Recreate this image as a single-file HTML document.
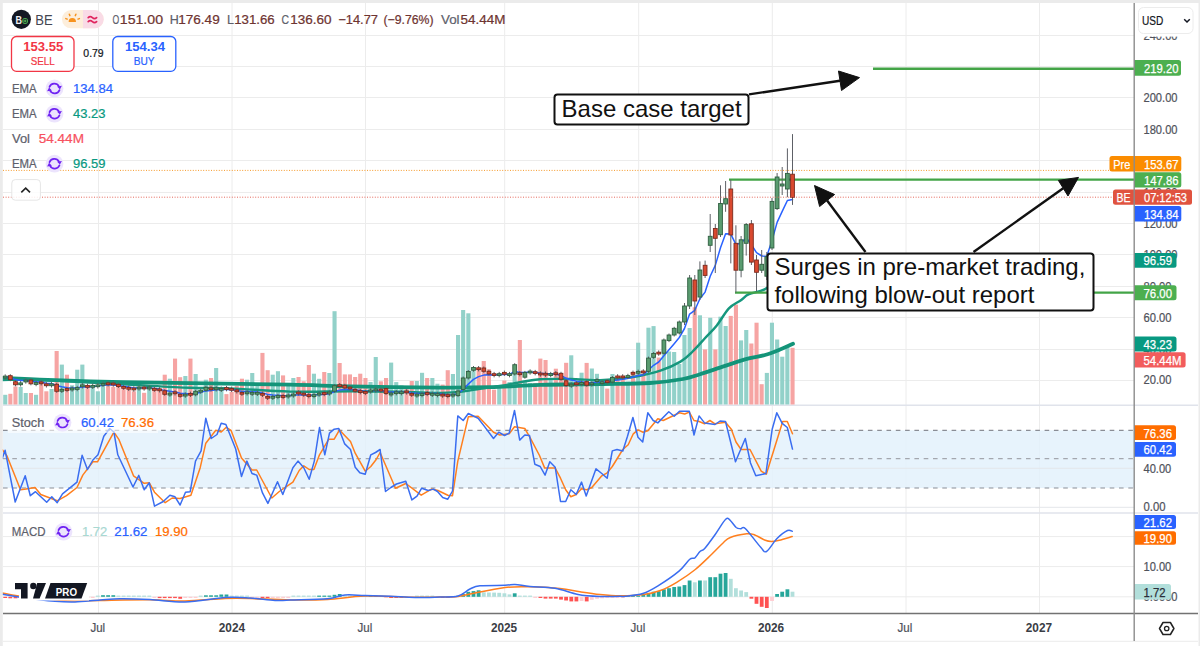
<!DOCTYPE html><html><head><meta charset="utf-8"><style>html,body{margin:0;padding:0;background:#fff;width:1200px;height:646px;overflow:hidden}svg{display:block}text{font-family:"Liberation Sans",sans-serif}</style></head><body>
<svg width="1200" height="646" viewBox="0 0 1200 646">
<rect x="0" y="0" width="1200" height="646" fill="#ffffff"/>
<line x1="3" y1="35.5" x2="1134" y2="35.5" stroke="#ececec" stroke-width="1"/>
<line x1="3" y1="66.5" x2="1134" y2="66.5" stroke="#ececec" stroke-width="1"/>
<line x1="3" y1="97.5" x2="1134" y2="97.5" stroke="#ececec" stroke-width="1"/>
<line x1="3" y1="129.5" x2="1134" y2="129.5" stroke="#ececec" stroke-width="1"/>
<line x1="3" y1="160.5" x2="1134" y2="160.5" stroke="#ececec" stroke-width="1"/>
<line x1="3" y1="192.5" x2="1134" y2="192.5" stroke="#ececec" stroke-width="1"/>
<line x1="3" y1="223.5" x2="1134" y2="223.5" stroke="#ececec" stroke-width="1"/>
<line x1="3" y1="254.5" x2="1134" y2="254.5" stroke="#ececec" stroke-width="1"/>
<line x1="3" y1="286.5" x2="1134" y2="286.5" stroke="#ececec" stroke-width="1"/>
<line x1="3" y1="317.5" x2="1134" y2="317.5" stroke="#ececec" stroke-width="1"/>
<line x1="3" y1="349.5" x2="1134" y2="349.5" stroke="#ececec" stroke-width="1"/>
<line x1="3" y1="380.5" x2="1134" y2="380.5" stroke="#ececec" stroke-width="1"/>
<line x1="98.5" y1="3" x2="98.5" y2="613" stroke="#ececec" stroke-width="1"/>
<line x1="232" y1="3" x2="232" y2="613" stroke="#ececec" stroke-width="1"/>
<line x1="365.5" y1="3" x2="365.5" y2="613" stroke="#ececec" stroke-width="1"/>
<line x1="504.7" y1="3" x2="504.7" y2="613" stroke="#ececec" stroke-width="1"/>
<line x1="638.7" y1="3" x2="638.7" y2="613" stroke="#ececec" stroke-width="1"/>
<line x1="772.3" y1="3" x2="772.3" y2="613" stroke="#ececec" stroke-width="1"/>
<line x1="906" y1="3" x2="906" y2="613" stroke="#ececec" stroke-width="1"/>
<line x1="1039.5" y1="3" x2="1039.5" y2="613" stroke="#ececec" stroke-width="1"/>
<rect x="3" y="430.3" width="1131" height="57.7" fill="#e3f1fc" fill-opacity="0.85"/>
<line x1="3" y1="468.3" x2="1134" y2="468.3" stroke="#e4e6ea" stroke-width="1"/>
<line x1="3" y1="507.3" x2="1134" y2="507.3" stroke="#e4e6ea" stroke-width="1"/>
<line x1="3" y1="430.3" x2="1134" y2="430.3" stroke="#8a8d95" stroke-width="1.2" stroke-dasharray="4.6 4.7"/>
<line x1="3" y1="458.6" x2="1134" y2="458.6" stroke="#a4a7ae" stroke-width="1.2" stroke-dasharray="4.6 4.7"/>
<line x1="3" y1="488" x2="1134" y2="488" stroke="#8a8d95" stroke-width="1.2" stroke-dasharray="4.6 4.7"/>
<line x1="3" y1="536.6" x2="1134" y2="536.6" stroke="#ececec" stroke-width="1"/>
<line x1="3" y1="566.6" x2="1134" y2="566.6" stroke="#ececec" stroke-width="1"/>
<line x1="3" y1="596.8" x2="1134" y2="596.8" stroke="#ececec" stroke-width="1"/>
<line x1="3" y1="405.2" x2="1198" y2="405.2" stroke="#e0e3eb" stroke-width="1.5"/>
<line x1="3" y1="513" x2="1198" y2="513" stroke="#e0e3eb" stroke-width="1.5"/>
<rect x="3.2" y="394.8" width="4.1" height="9.7" fill="#92d1c9"/>
<rect x="8.3" y="393.8" width="4.1" height="10.7" fill="#f6a4a3"/>
<rect x="13.4" y="386.5" width="4.1" height="18.0" fill="#f6a4a3"/>
<rect x="18.6" y="387.0" width="4.1" height="17.5" fill="#92d1c9"/>
<rect x="23.7" y="393.0" width="4.1" height="11.5" fill="#92d1c9"/>
<rect x="28.9" y="393.0" width="4.1" height="11.5" fill="#f6a4a3"/>
<rect x="34.0" y="394.8" width="4.1" height="9.7" fill="#92d1c9"/>
<rect x="39.2" y="383.3" width="4.1" height="21.2" fill="#f6a4a3"/>
<rect x="44.3" y="391.3" width="4.1" height="13.2" fill="#f6a4a3"/>
<rect x="49.5" y="389.0" width="4.1" height="15.5" fill="#92d1c9"/>
<rect x="54.6" y="351.0" width="4.1" height="53.5" fill="#f6a4a3"/>
<rect x="59.8" y="364.6" width="4.1" height="39.9" fill="#92d1c9"/>
<rect x="64.9" y="374.7" width="4.1" height="29.8" fill="#f6a4a3"/>
<rect x="70.0" y="385.3" width="4.1" height="19.2" fill="#92d1c9"/>
<rect x="75.2" y="369.7" width="4.1" height="34.8" fill="#92d1c9"/>
<rect x="80.3" y="364.6" width="4.1" height="39.9" fill="#92d1c9"/>
<rect x="85.5" y="385.3" width="4.1" height="19.2" fill="#f6a4a3"/>
<rect x="90.6" y="386.3" width="4.1" height="18.2" fill="#92d1c9"/>
<rect x="95.8" y="391.3" width="4.1" height="13.2" fill="#92d1c9"/>
<rect x="100.9" y="385.8" width="4.1" height="18.7" fill="#92d1c9"/>
<rect x="106.1" y="385.3" width="4.1" height="19.2" fill="#f6a4a3"/>
<rect x="111.2" y="386.8" width="4.1" height="17.7" fill="#f6a4a3"/>
<rect x="116.4" y="386.3" width="4.1" height="18.2" fill="#f6a4a3"/>
<rect x="121.5" y="388.3" width="4.1" height="16.2" fill="#f6a4a3"/>
<rect x="126.7" y="389.3" width="4.1" height="15.2" fill="#f6a4a3"/>
<rect x="131.8" y="391.3" width="4.1" height="13.2" fill="#f6a4a3"/>
<rect x="136.9" y="388.3" width="4.1" height="16.2" fill="#92d1c9"/>
<rect x="142.1" y="392.8" width="4.1" height="11.7" fill="#f6a4a3"/>
<rect x="147.2" y="388.3" width="4.1" height="16.2" fill="#92d1c9"/>
<rect x="152.4" y="389.3" width="4.1" height="15.2" fill="#f6a4a3"/>
<rect x="157.5" y="389.8" width="4.1" height="14.7" fill="#f6a4a3"/>
<rect x="162.7" y="374.7" width="4.1" height="29.8" fill="#f6a4a3"/>
<rect x="167.8" y="378.7" width="4.1" height="25.8" fill="#92d1c9"/>
<rect x="173.0" y="358.6" width="4.1" height="45.9" fill="#f6a4a3"/>
<rect x="178.1" y="377.2" width="4.1" height="27.3" fill="#f6a4a3"/>
<rect x="183.3" y="376.0" width="4.1" height="28.5" fill="#92d1c9"/>
<rect x="188.4" y="358.6" width="4.1" height="45.9" fill="#f6a4a3"/>
<rect x="193.6" y="374.0" width="4.1" height="30.5" fill="#92d1c9"/>
<rect x="198.7" y="390.3" width="4.1" height="14.2" fill="#92d1c9"/>
<rect x="203.8" y="379.7" width="4.1" height="24.8" fill="#92d1c9"/>
<rect x="209.0" y="378.0" width="4.1" height="26.5" fill="#f6a4a3"/>
<rect x="214.1" y="368.0" width="4.1" height="36.5" fill="#92d1c9"/>
<rect x="219.3" y="388.3" width="4.1" height="16.2" fill="#92d1c9"/>
<rect x="224.4" y="394.1" width="4.1" height="10.4" fill="#f6a4a3"/>
<rect x="229.6" y="391.8" width="4.1" height="12.7" fill="#f6a4a3"/>
<rect x="234.7" y="385.8" width="4.1" height="18.7" fill="#f6a4a3"/>
<rect x="239.9" y="378.7" width="4.1" height="25.8" fill="#f6a4a3"/>
<rect x="245.0" y="379.7" width="4.1" height="24.8" fill="#92d1c9"/>
<rect x="250.2" y="373.0" width="4.1" height="31.5" fill="#92d1c9"/>
<rect x="255.3" y="385.8" width="4.1" height="18.7" fill="#92d1c9"/>
<rect x="260.4" y="352.9" width="4.1" height="51.6" fill="#f6a4a3"/>
<rect x="265.6" y="370.2" width="4.1" height="34.3" fill="#f6a4a3"/>
<rect x="270.7" y="374.7" width="4.1" height="29.8" fill="#92d1c9"/>
<rect x="275.9" y="371.2" width="4.1" height="33.3" fill="#92d1c9"/>
<rect x="281.0" y="375.4" width="4.1" height="29.1" fill="#f6a4a3"/>
<rect x="286.2" y="383.5" width="4.1" height="21.0" fill="#92d1c9"/>
<rect x="291.3" y="378.0" width="4.1" height="26.5" fill="#92d1c9"/>
<rect x="296.5" y="377.0" width="4.1" height="27.5" fill="#f6a4a3"/>
<rect x="301.6" y="381.3" width="4.1" height="23.2" fill="#f6a4a3"/>
<rect x="306.8" y="365.0" width="4.1" height="39.5" fill="#f6a4a3"/>
<rect x="311.9" y="373.7" width="4.1" height="30.8" fill="#92d1c9"/>
<rect x="317.1" y="378.8" width="4.1" height="25.7" fill="#92d1c9"/>
<rect x="322.2" y="372.0" width="4.1" height="32.5" fill="#f6a4a3"/>
<rect x="327.3" y="373.0" width="4.1" height="31.5" fill="#92d1c9"/>
<rect x="332.5" y="311.2" width="4.1" height="93.3" fill="#92d1c9"/>
<rect x="337.6" y="363.0" width="4.1" height="41.5" fill="#f6a4a3"/>
<rect x="342.8" y="374.4" width="4.1" height="30.1" fill="#f6a4a3"/>
<rect x="347.9" y="374.4" width="4.1" height="30.1" fill="#f6a4a3"/>
<rect x="353.1" y="377.0" width="4.1" height="27.5" fill="#f6a4a3"/>
<rect x="358.2" y="373.7" width="4.1" height="30.8" fill="#f6a4a3"/>
<rect x="363.4" y="378.0" width="4.1" height="26.5" fill="#f6a4a3"/>
<rect x="368.5" y="382.0" width="4.1" height="22.5" fill="#92d1c9"/>
<rect x="373.7" y="357.0" width="4.1" height="47.5" fill="#92d1c9"/>
<rect x="378.8" y="381.3" width="4.1" height="23.2" fill="#f6a4a3"/>
<rect x="384.0" y="378.0" width="4.1" height="26.5" fill="#f6a4a3"/>
<rect x="389.1" y="362.6" width="4.1" height="41.9" fill="#92d1c9"/>
<rect x="394.2" y="382.1" width="4.1" height="22.4" fill="#92d1c9"/>
<rect x="399.4" y="385.4" width="4.1" height="19.1" fill="#92d1c9"/>
<rect x="404.5" y="388.6" width="4.1" height="15.9" fill="#f6a4a3"/>
<rect x="409.7" y="381.0" width="4.1" height="23.5" fill="#f6a4a3"/>
<rect x="414.8" y="381.0" width="4.1" height="23.5" fill="#92d1c9"/>
<rect x="420.0" y="372.8" width="4.1" height="31.7" fill="#92d1c9"/>
<rect x="425.1" y="378.0" width="4.1" height="26.5" fill="#f6a4a3"/>
<rect x="430.3" y="378.0" width="4.1" height="26.5" fill="#92d1c9"/>
<rect x="435.4" y="383.7" width="4.1" height="20.8" fill="#92d1c9"/>
<rect x="440.6" y="384.6" width="4.1" height="19.9" fill="#f6a4a3"/>
<rect x="445.7" y="370.2" width="4.1" height="34.3" fill="#f6a4a3"/>
<rect x="450.9" y="374.0" width="4.1" height="30.5" fill="#92d1c9"/>
<rect x="456.0" y="335.0" width="4.1" height="69.5" fill="#92d1c9"/>
<rect x="461.1" y="310.0" width="4.1" height="94.5" fill="#92d1c9"/>
<rect x="466.3" y="313.3" width="4.1" height="91.2" fill="#92d1c9"/>
<rect x="471.4" y="368.3" width="4.1" height="36.2" fill="#92d1c9"/>
<rect x="476.6" y="368.0" width="4.1" height="36.5" fill="#f6a4a3"/>
<rect x="481.7" y="361.0" width="4.1" height="43.5" fill="#f6a4a3"/>
<rect x="486.9" y="369.3" width="4.1" height="35.2" fill="#f6a4a3"/>
<rect x="492.0" y="389.7" width="4.1" height="14.8" fill="#f6a4a3"/>
<rect x="497.2" y="385.0" width="4.1" height="19.5" fill="#92d1c9"/>
<rect x="502.3" y="380.5" width="4.1" height="24.0" fill="#f6a4a3"/>
<rect x="507.5" y="382.0" width="4.1" height="22.5" fill="#92d1c9"/>
<rect x="512.6" y="372.6" width="4.1" height="31.9" fill="#92d1c9"/>
<rect x="517.8" y="340.0" width="4.1" height="64.5" fill="#f6a4a3"/>
<rect x="522.9" y="382.0" width="4.1" height="22.5" fill="#92d1c9"/>
<rect x="528.0" y="383.0" width="4.1" height="21.5" fill="#92d1c9"/>
<rect x="533.2" y="383.0" width="4.1" height="21.5" fill="#f6a4a3"/>
<rect x="538.3" y="358.6" width="4.1" height="45.9" fill="#f6a4a3"/>
<rect x="543.5" y="360.0" width="4.1" height="44.5" fill="#f6a4a3"/>
<rect x="548.6" y="378.0" width="4.1" height="26.5" fill="#92d1c9"/>
<rect x="553.8" y="368.7" width="4.1" height="35.8" fill="#f6a4a3"/>
<rect x="558.9" y="378.0" width="4.1" height="26.5" fill="#f6a4a3"/>
<rect x="564.1" y="362.8" width="4.1" height="41.7" fill="#f6a4a3"/>
<rect x="569.2" y="355.3" width="4.1" height="49.2" fill="#92d1c9"/>
<rect x="574.4" y="384.8" width="4.1" height="19.7" fill="#f6a4a3"/>
<rect x="579.5" y="372.7" width="4.1" height="31.8" fill="#92d1c9"/>
<rect x="584.6" y="362.9" width="4.1" height="41.6" fill="#f6a4a3"/>
<rect x="589.8" y="368.5" width="4.1" height="36.0" fill="#92d1c9"/>
<rect x="594.9" y="373.8" width="4.1" height="30.7" fill="#92d1c9"/>
<rect x="600.1" y="382.7" width="4.1" height="21.8" fill="#92d1c9"/>
<rect x="605.2" y="388.6" width="4.1" height="15.9" fill="#f6a4a3"/>
<rect x="610.4" y="374.0" width="4.1" height="30.5" fill="#92d1c9"/>
<rect x="615.5" y="378.6" width="4.1" height="25.9" fill="#f6a4a3"/>
<rect x="620.7" y="378.6" width="4.1" height="25.9" fill="#f6a4a3"/>
<rect x="625.8" y="381.7" width="4.1" height="22.8" fill="#92d1c9"/>
<rect x="631.0" y="371.7" width="4.1" height="32.8" fill="#f6a4a3"/>
<rect x="636.1" y="342.7" width="4.1" height="61.8" fill="#92d1c9"/>
<rect x="641.3" y="373.6" width="4.1" height="30.9" fill="#f6a4a3"/>
<rect x="646.4" y="327.7" width="4.1" height="76.8" fill="#92d1c9"/>
<rect x="651.5" y="326.1" width="4.1" height="78.4" fill="#92d1c9"/>
<rect x="656.7" y="357.6" width="4.1" height="46.9" fill="#f6a4a3"/>
<rect x="661.8" y="352.0" width="4.1" height="52.5" fill="#92d1c9"/>
<rect x="667.0" y="351.5" width="4.1" height="53.0" fill="#92d1c9"/>
<rect x="672.1" y="352.0" width="4.1" height="52.5" fill="#92d1c9"/>
<rect x="677.3" y="364.0" width="4.1" height="40.5" fill="#92d1c9"/>
<rect x="682.4" y="335.0" width="4.1" height="69.5" fill="#92d1c9"/>
<rect x="687.6" y="328.0" width="4.1" height="76.5" fill="#92d1c9"/>
<rect x="692.7" y="307.3" width="4.1" height="97.2" fill="#f6a4a3"/>
<rect x="697.9" y="315.3" width="4.1" height="89.2" fill="#92d1c9"/>
<rect x="703.0" y="349.4" width="4.1" height="55.1" fill="#f6a4a3"/>
<rect x="708.2" y="317.8" width="4.1" height="86.7" fill="#92d1c9"/>
<rect x="713.3" y="349.4" width="4.1" height="55.1" fill="#f6a4a3"/>
<rect x="718.4" y="316.7" width="4.1" height="87.8" fill="#92d1c9"/>
<rect x="723.6" y="326.0" width="4.1" height="78.5" fill="#92d1c9"/>
<rect x="728.7" y="315.9" width="4.1" height="88.6" fill="#f6a4a3"/>
<rect x="733.9" y="304.6" width="4.1" height="99.9" fill="#f6a4a3"/>
<rect x="739.0" y="340.4" width="4.1" height="64.1" fill="#92d1c9"/>
<rect x="744.2" y="330.0" width="4.1" height="74.5" fill="#92d1c9"/>
<rect x="749.3" y="343.5" width="4.1" height="61.0" fill="#f6a4a3"/>
<rect x="754.5" y="322.7" width="4.1" height="81.8" fill="#f6a4a3"/>
<rect x="759.6" y="384.2" width="4.1" height="20.3" fill="#f6a4a3"/>
<rect x="764.8" y="372.9" width="4.1" height="31.6" fill="#92d1c9"/>
<rect x="769.9" y="322.7" width="4.1" height="81.8" fill="#92d1c9"/>
<rect x="775.1" y="339.5" width="4.1" height="65.0" fill="#92d1c9"/>
<rect x="780.2" y="356.7" width="4.1" height="47.8" fill="#92d1c9"/>
<rect x="785.3" y="347.0" width="4.1" height="57.5" fill="#92d1c9"/>
<rect x="790.5" y="347.8" width="4.1" height="56.7" fill="#f6a4a3"/>
<path d="M2.0,377.8 C6.7,378.0 21.2,378.7 30.0,379.1 C38.8,379.5 45.0,379.8 55.0,380.2 C65.0,380.6 75.8,380.9 90.0,381.3 C104.2,381.7 123.3,382.1 140.0,382.4 C156.7,382.7 165.0,382.7 190.0,383.1 C215.0,383.5 263.3,384.2 290.0,384.7 C316.7,385.2 325.0,385.8 350.0,386.3 C375.0,386.8 416.7,387.5 440.0,387.6 C463.3,387.8 473.3,387.6 490.0,387.2 C506.7,386.8 521.7,385.4 540.0,384.9 C558.3,384.4 581.7,384.3 600.0,384.0 C618.3,383.7 636.2,383.8 650.0,383.0 C663.8,382.2 674.7,380.5 683.0,379.0 C691.3,377.5 693.8,376.1 700.0,374.2 C706.2,372.3 712.5,370.1 720.0,367.6 C727.5,365.1 737.5,361.5 745.0,359.4 C752.5,357.3 759.2,356.6 765.0,355.0 C770.8,353.4 775.3,351.4 780.0,349.5 C784.7,347.6 790.8,344.8 793.0,343.8" fill="none" stroke="#139479" stroke-width="3.8" stroke-linecap="round"/>
<path d="M2.0,380.0 C6.7,380.0 21.2,379.7 30.0,379.8 C38.8,379.9 45.0,380.1 55.0,380.6 C65.0,381.1 75.8,381.8 90.0,382.6 C104.2,383.4 123.3,384.4 140.0,385.3 C156.7,386.2 175.0,387.3 190.0,387.8 C205.0,388.3 213.3,387.8 230.0,388.4 C246.7,389.0 270.0,391.1 290.0,391.6 C310.0,392.1 331.7,391.3 350.0,391.3 C368.3,391.3 385.0,391.5 400.0,391.8 C415.0,392.1 430.0,393.0 440.0,393.0 C450.0,393.0 453.3,392.4 460.0,391.8 C466.7,391.1 473.3,389.8 480.0,388.8 C486.7,387.8 493.3,387.1 500.0,386.0 C506.7,384.9 513.3,383.3 520.0,382.2 C526.7,381.1 531.7,379.7 540.0,379.2 C548.3,378.7 560.0,378.8 570.0,379.0 C580.0,379.2 591.6,380.2 600.0,380.2 C608.4,380.1 613.4,379.4 620.1,378.7 C626.8,377.9 633.6,377.0 640.3,375.7 C647.0,374.4 653.7,373.0 660.4,370.7 C667.1,368.4 675.1,364.8 680.5,361.6 C685.9,358.4 688.6,355.4 692.6,351.5 C696.6,347.6 700.7,342.9 704.7,338.5 C708.7,334.1 712.8,330.4 716.8,325.4 C720.8,320.4 724.9,312.5 728.9,308.3 C732.9,304.1 737.5,302.6 740.9,300.2 C744.2,297.8 745.0,296.0 749.0,294.2 C753.0,292.4 759.9,292.1 765.1,289.1 C770.3,286.1 775.4,280.9 780.0,276.0 C784.6,271.1 790.8,262.7 793.0,260.0" fill="none" stroke="#16977d" stroke-width="2.4" stroke-linecap="round"/>
<polyline points="5.2,376.7 10.3,377.6 15.5,379.6 20.6,380.6 25.8,380.4 30.9,381.4 36.1,381.7 41.2,382.3 46.4,383.3 51.5,383.5 56.7,385.7 61.8,386.8 67.0,387.8 72.1,387.9 77.2,387.8 82.4,387.0 87.5,387.0 92.7,386.6 97.8,386.1 103.0,385.3 108.1,385.1 113.3,385.1 118.4,385.5 123.6,386.3 128.7,387.1 133.8,387.9 139.0,387.7 144.1,388.0 149.3,387.8 154.4,388.5 159.6,389.1 164.7,390.6 169.9,391.3 175.0,392.0 180.2,393.2 185.3,393.5 190.5,394.0 195.6,393.2 200.7,392.4 205.9,390.9 211.0,390.6 216.2,389.8 221.3,389.4 226.5,389.4 231.6,389.7 236.8,390.2 241.9,391.4 247.1,391.5 252.2,391.8 257.4,392.0 262.5,392.9 267.6,394.4 272.8,395.0 277.9,395.2 283.1,395.8 288.2,395.6 293.4,395.2 298.5,394.8 303.7,394.9 308.8,395.3 314.0,395.1 319.1,394.6 324.3,394.5 329.4,393.8 334.5,391.5 339.7,390.1 344.8,389.5 350.0,389.3 355.1,389.9 360.3,390.6 365.4,391.4 370.6,391.0 375.7,390.4 380.9,390.6 386.0,391.4 391.1,391.9 396.3,391.9 401.4,391.9 406.6,392.1 411.7,393.0 416.9,393.3 422.0,393.4 427.2,393.7 432.3,393.6 437.5,393.6 442.6,394.3 447.8,394.9 452.9,394.7 458.0,393.7 463.2,389.2 468.3,384.1 473.5,379.4 478.6,376.6 483.8,375.1 488.9,374.8 494.1,375.0 499.2,374.6 504.4,374.5 509.5,374.3 514.7,371.5 519.8,372.4 524.9,372.4 530.1,372.0 535.2,372.5 540.4,373.2 545.5,373.7 550.7,373.7 555.8,374.0 561.0,375.5 566.1,378.3 571.3,380.0 576.4,381.3 581.6,381.7 586.7,382.7 591.8,382.7 597.0,381.9 602.1,381.9 607.3,382.1 612.4,380.8 617.6,379.9 622.7,379.3 627.9,378.3 633.0,377.1 638.2,375.5 643.3,374.7 648.5,370.0 653.6,365.3 658.7,362.0 663.9,355.7 669.0,349.8 674.2,343.7 679.3,337.5 684.5,328.5 689.6,314.1 694.8,310.3 699.9,298.8 705.1,292.1 710.2,276.2 715.3,265.4 720.5,247.7 725.6,233.7 730.8,234.1 735.9,244.4 741.1,243.1 746.2,237.8 751.4,244.7 756.5,252.6 761.7,256.0 766.8,256.2 772.0,240.5 777.1,222.4 782.2,211.4 787.4,200.5 792.5,199.6" fill="none" stroke="#2962ff" stroke-width="1.5" stroke-linejoin="round" stroke-linecap="round"/>
<line x1="873" y1="68.7" x2="1134" y2="68.7" stroke="#43a447" stroke-width="2.4"/>
<line x1="729" y1="179.6" x2="1134" y2="179.6" stroke="#43a447" stroke-width="2.4"/>
<line x1="735" y1="292.6" x2="1134" y2="292.6" stroke="#43a447" stroke-width="2.4"/>
<line x1="5.2" y1="374.3" x2="5.2" y2="379.7" stroke="#5d6066" stroke-width="1"/>
<rect x="3.3" y="376.1" width="3.8" height="1.8" fill="#5a9c70" stroke="#2f5f40" stroke-width="0.9"/>
<line x1="10.3" y1="374.2" x2="10.3" y2="381.2" stroke="#5d6066" stroke-width="1"/>
<rect x="8.4" y="375.7" width="3.8" height="4.0" fill="#d9492f" stroke="#7a2a1e" stroke-width="0.9"/>
<line x1="15.5" y1="380.2" x2="15.5" y2="386.3" stroke="#5d6066" stroke-width="1"/>
<rect x="13.6" y="381.7" width="3.8" height="3.1" fill="#d9492f" stroke="#7a2a1e" stroke-width="0.9"/>
<line x1="20.6" y1="381.1" x2="20.6" y2="386.5" stroke="#5d6066" stroke-width="1"/>
<rect x="18.7" y="382.9" width="3.8" height="1.8" fill="#5a9c70" stroke="#2f5f40" stroke-width="0.9"/>
<line x1="25.8" y1="378.3" x2="25.8" y2="383.7" stroke="#5d6066" stroke-width="1"/>
<rect x="23.9" y="380.1" width="3.8" height="1.8" fill="#5a9c70" stroke="#2f5f40" stroke-width="0.9"/>
<line x1="30.9" y1="378.5" x2="30.9" y2="385.3" stroke="#5d6066" stroke-width="1"/>
<rect x="29.0" y="380.0" width="3.8" height="3.8" fill="#d9492f" stroke="#7a2a1e" stroke-width="0.9"/>
<line x1="36.1" y1="380.8" x2="36.1" y2="386.2" stroke="#5d6066" stroke-width="1"/>
<rect x="34.2" y="382.6" width="3.8" height="1.8" fill="#5a9c70" stroke="#2f5f40" stroke-width="0.9"/>
<line x1="41.2" y1="380.1" x2="41.2" y2="385.5" stroke="#5d6066" stroke-width="1"/>
<rect x="39.3" y="381.9" width="3.8" height="1.8" fill="#d9492f" stroke="#7a2a1e" stroke-width="0.9"/>
<line x1="46.4" y1="382.1" x2="46.4" y2="387.5" stroke="#5d6066" stroke-width="1"/>
<rect x="44.5" y="383.9" width="3.8" height="1.8" fill="#d9492f" stroke="#7a2a1e" stroke-width="0.9"/>
<line x1="51.5" y1="382.1" x2="51.5" y2="387.5" stroke="#5d6066" stroke-width="1"/>
<rect x="49.6" y="383.9" width="3.8" height="1.8" fill="#5a9c70" stroke="#2f5f40" stroke-width="0.9"/>
<line x1="56.7" y1="382.8" x2="56.7" y2="392.8" stroke="#5d6066" stroke-width="1"/>
<rect x="54.8" y="384.3" width="3.8" height="7.0" fill="#d9492f" stroke="#7a2a1e" stroke-width="0.9"/>
<line x1="61.8" y1="387.6" x2="61.8" y2="393.0" stroke="#5d6066" stroke-width="1"/>
<rect x="59.9" y="389.4" width="3.8" height="1.8" fill="#5a9c70" stroke="#2f5f40" stroke-width="0.9"/>
<line x1="67.0" y1="386.8" x2="67.0" y2="392.2" stroke="#5d6066" stroke-width="1"/>
<rect x="65.1" y="388.6" width="3.8" height="1.8" fill="#d9492f" stroke="#7a2a1e" stroke-width="0.9"/>
<line x1="72.1" y1="386.3" x2="72.1" y2="391.7" stroke="#5d6066" stroke-width="1"/>
<rect x="70.2" y="388.1" width="3.8" height="1.8" fill="#5a9c70" stroke="#2f5f40" stroke-width="0.9"/>
<line x1="77.2" y1="385.8" x2="77.2" y2="391.2" stroke="#5d6066" stroke-width="1"/>
<rect x="75.3" y="387.6" width="3.8" height="1.8" fill="#5a9c70" stroke="#2f5f40" stroke-width="0.9"/>
<line x1="82.4" y1="383.1" x2="82.4" y2="388.5" stroke="#5d6066" stroke-width="1"/>
<rect x="80.5" y="384.9" width="3.8" height="1.8" fill="#5a9c70" stroke="#2f5f40" stroke-width="0.9"/>
<line x1="87.5" y1="383.6" x2="87.5" y2="389.0" stroke="#5d6066" stroke-width="1"/>
<rect x="85.6" y="385.4" width="3.8" height="1.8" fill="#d9492f" stroke="#7a2a1e" stroke-width="0.9"/>
<line x1="92.7" y1="383.6" x2="92.7" y2="389.0" stroke="#5d6066" stroke-width="1"/>
<rect x="90.8" y="385.4" width="3.8" height="1.8" fill="#5a9c70" stroke="#2f5f40" stroke-width="0.9"/>
<line x1="97.8" y1="383.1" x2="97.8" y2="388.5" stroke="#5d6066" stroke-width="1"/>
<rect x="95.9" y="384.9" width="3.8" height="1.8" fill="#5a9c70" stroke="#2f5f40" stroke-width="0.9"/>
<line x1="103.0" y1="381.6" x2="103.0" y2="387.0" stroke="#5d6066" stroke-width="1"/>
<rect x="101.1" y="383.4" width="3.8" height="1.8" fill="#5a9c70" stroke="#2f5f40" stroke-width="0.9"/>
<line x1="108.1" y1="381.1" x2="108.1" y2="386.5" stroke="#5d6066" stroke-width="1"/>
<rect x="106.2" y="382.9" width="3.8" height="1.8" fill="#d9492f" stroke="#7a2a1e" stroke-width="0.9"/>
<line x1="113.3" y1="381.3" x2="113.3" y2="386.7" stroke="#5d6066" stroke-width="1"/>
<rect x="111.4" y="383.1" width="3.8" height="1.8" fill="#d9492f" stroke="#7a2a1e" stroke-width="0.9"/>
<line x1="118.4" y1="382.8" x2="118.4" y2="388.0" stroke="#5d6066" stroke-width="1"/>
<rect x="116.5" y="384.3" width="3.8" height="2.2" fill="#d9492f" stroke="#7a2a1e" stroke-width="0.9"/>
<line x1="123.6" y1="385.0" x2="123.6" y2="389.8" stroke="#5d6066" stroke-width="1"/>
<rect x="121.7" y="386.5" width="3.8" height="1.8" fill="#d9492f" stroke="#7a2a1e" stroke-width="0.9"/>
<line x1="128.7" y1="385.6" x2="128.7" y2="391.0" stroke="#5d6066" stroke-width="1"/>
<rect x="126.8" y="387.4" width="3.8" height="1.8" fill="#d9492f" stroke="#7a2a1e" stroke-width="0.9"/>
<line x1="133.8" y1="386.3" x2="133.8" y2="391.7" stroke="#5d6066" stroke-width="1"/>
<rect x="131.9" y="388.1" width="3.8" height="1.8" fill="#d9492f" stroke="#7a2a1e" stroke-width="0.9"/>
<line x1="139.0" y1="385.3" x2="139.0" y2="390.7" stroke="#5d6066" stroke-width="1"/>
<rect x="137.1" y="387.1" width="3.8" height="1.8" fill="#5a9c70" stroke="#2f5f40" stroke-width="0.9"/>
<line x1="144.1" y1="385.3" x2="144.1" y2="390.7" stroke="#5d6066" stroke-width="1"/>
<rect x="142.2" y="387.1" width="3.8" height="1.8" fill="#d9492f" stroke="#7a2a1e" stroke-width="0.9"/>
<line x1="149.3" y1="385.3" x2="149.3" y2="390.7" stroke="#5d6066" stroke-width="1"/>
<rect x="147.4" y="387.1" width="3.8" height="1.8" fill="#5a9c70" stroke="#2f5f40" stroke-width="0.9"/>
<line x1="154.4" y1="386.8" x2="154.4" y2="391.8" stroke="#5d6066" stroke-width="1"/>
<rect x="152.5" y="388.3" width="3.8" height="2.0" fill="#d9492f" stroke="#7a2a1e" stroke-width="0.9"/>
<line x1="159.6" y1="387.1" x2="159.6" y2="392.5" stroke="#5d6066" stroke-width="1"/>
<rect x="157.7" y="388.9" width="3.8" height="1.8" fill="#d9492f" stroke="#7a2a1e" stroke-width="0.9"/>
<line x1="164.7" y1="389.3" x2="164.7" y2="395.8" stroke="#5d6066" stroke-width="1"/>
<rect x="162.8" y="390.8" width="3.8" height="3.5" fill="#d9492f" stroke="#7a2a1e" stroke-width="0.9"/>
<line x1="169.9" y1="391.4" x2="169.9" y2="396.8" stroke="#5d6066" stroke-width="1"/>
<rect x="168.0" y="393.2" width="3.8" height="1.8" fill="#5a9c70" stroke="#2f5f40" stroke-width="0.9"/>
<line x1="175.0" y1="390.1" x2="175.0" y2="395.5" stroke="#5d6066" stroke-width="1"/>
<rect x="173.1" y="391.9" width="3.8" height="1.8" fill="#d9492f" stroke="#7a2a1e" stroke-width="0.9"/>
<line x1="180.2" y1="392.8" x2="180.2" y2="397.8" stroke="#5d6066" stroke-width="1"/>
<rect x="178.3" y="394.3" width="3.8" height="2.0" fill="#d9492f" stroke="#7a2a1e" stroke-width="0.9"/>
<line x1="185.3" y1="392.4" x2="185.3" y2="397.8" stroke="#5d6066" stroke-width="1"/>
<rect x="183.4" y="394.2" width="3.8" height="1.8" fill="#5a9c70" stroke="#2f5f40" stroke-width="0.9"/>
<line x1="190.5" y1="391.6" x2="190.5" y2="397.0" stroke="#5d6066" stroke-width="1"/>
<rect x="188.6" y="393.4" width="3.8" height="1.8" fill="#d9492f" stroke="#7a2a1e" stroke-width="0.9"/>
<line x1="195.6" y1="389.8" x2="195.6" y2="396.3" stroke="#5d6066" stroke-width="1"/>
<rect x="193.7" y="391.3" width="3.8" height="3.5" fill="#5a9c70" stroke="#2f5f40" stroke-width="0.9"/>
<line x1="200.7" y1="388.4" x2="200.7" y2="393.8" stroke="#5d6066" stroke-width="1"/>
<rect x="198.8" y="390.2" width="3.8" height="1.8" fill="#5a9c70" stroke="#2f5f40" stroke-width="0.9"/>
<line x1="205.9" y1="385.8" x2="205.9" y2="391.8" stroke="#5d6066" stroke-width="1"/>
<rect x="204.0" y="387.3" width="3.8" height="3.0" fill="#5a9c70" stroke="#2f5f40" stroke-width="0.9"/>
<line x1="211.0" y1="386.1" x2="211.0" y2="391.5" stroke="#5d6066" stroke-width="1"/>
<rect x="209.1" y="387.9" width="3.8" height="1.8" fill="#d9492f" stroke="#7a2a1e" stroke-width="0.9"/>
<line x1="216.2" y1="386.1" x2="216.2" y2="391.5" stroke="#5d6066" stroke-width="1"/>
<rect x="214.3" y="387.9" width="3.8" height="1.8" fill="#5a9c70" stroke="#2f5f40" stroke-width="0.9"/>
<line x1="221.3" y1="386.6" x2="221.3" y2="392.0" stroke="#5d6066" stroke-width="1"/>
<rect x="219.4" y="388.4" width="3.8" height="1.8" fill="#5a9c70" stroke="#2f5f40" stroke-width="0.9"/>
<line x1="226.5" y1="385.9" x2="226.5" y2="391.3" stroke="#5d6066" stroke-width="1"/>
<rect x="224.6" y="387.7" width="3.8" height="1.8" fill="#d9492f" stroke="#7a2a1e" stroke-width="0.9"/>
<line x1="231.6" y1="386.6" x2="231.6" y2="392.0" stroke="#5d6066" stroke-width="1"/>
<rect x="229.7" y="388.4" width="3.8" height="1.8" fill="#d9492f" stroke="#7a2a1e" stroke-width="0.9"/>
<line x1="236.8" y1="388.1" x2="236.8" y2="393.5" stroke="#5d6066" stroke-width="1"/>
<rect x="234.9" y="389.9" width="3.8" height="1.8" fill="#d9492f" stroke="#7a2a1e" stroke-width="0.9"/>
<line x1="241.9" y1="390.6" x2="241.9" y2="396.0" stroke="#5d6066" stroke-width="1"/>
<rect x="240.0" y="392.4" width="3.8" height="1.8" fill="#d9492f" stroke="#7a2a1e" stroke-width="0.9"/>
<line x1="247.1" y1="390.1" x2="247.1" y2="395.5" stroke="#5d6066" stroke-width="1"/>
<rect x="245.2" y="391.9" width="3.8" height="1.8" fill="#5a9c70" stroke="#2f5f40" stroke-width="0.9"/>
<line x1="252.2" y1="390.6" x2="252.2" y2="396.0" stroke="#5d6066" stroke-width="1"/>
<rect x="250.3" y="392.4" width="3.8" height="1.8" fill="#5a9c70" stroke="#2f5f40" stroke-width="0.9"/>
<line x1="257.4" y1="390.6" x2="257.4" y2="396.0" stroke="#5d6066" stroke-width="1"/>
<rect x="255.5" y="392.4" width="3.8" height="1.8" fill="#5a9c70" stroke="#2f5f40" stroke-width="0.9"/>
<line x1="262.5" y1="391.6" x2="262.5" y2="397.0" stroke="#5d6066" stroke-width="1"/>
<rect x="260.6" y="393.4" width="3.8" height="1.8" fill="#d9492f" stroke="#7a2a1e" stroke-width="0.9"/>
<line x1="267.6" y1="394.6" x2="267.6" y2="400.0" stroke="#5d6066" stroke-width="1"/>
<rect x="265.7" y="396.4" width="3.8" height="1.8" fill="#d9492f" stroke="#7a2a1e" stroke-width="0.9"/>
<line x1="272.8" y1="394.6" x2="272.8" y2="400.0" stroke="#5d6066" stroke-width="1"/>
<rect x="270.9" y="396.4" width="3.8" height="1.8" fill="#5a9c70" stroke="#2f5f40" stroke-width="0.9"/>
<line x1="277.9" y1="393.8" x2="277.9" y2="399.2" stroke="#5d6066" stroke-width="1"/>
<rect x="276.0" y="395.6" width="3.8" height="1.8" fill="#5a9c70" stroke="#2f5f40" stroke-width="0.9"/>
<line x1="283.1" y1="393.8" x2="283.1" y2="399.2" stroke="#5d6066" stroke-width="1"/>
<rect x="281.2" y="395.6" width="3.8" height="1.8" fill="#d9492f" stroke="#7a2a1e" stroke-width="0.9"/>
<line x1="288.2" y1="393.3" x2="288.2" y2="398.7" stroke="#5d6066" stroke-width="1"/>
<rect x="286.3" y="395.1" width="3.8" height="1.8" fill="#5a9c70" stroke="#2f5f40" stroke-width="0.9"/>
<line x1="293.4" y1="392.3" x2="293.4" y2="397.7" stroke="#5d6066" stroke-width="1"/>
<rect x="291.5" y="394.1" width="3.8" height="1.8" fill="#5a9c70" stroke="#2f5f40" stroke-width="0.9"/>
<line x1="298.5" y1="390.3" x2="298.5" y2="395.7" stroke="#5d6066" stroke-width="1"/>
<rect x="296.6" y="392.1" width="3.8" height="1.8" fill="#d9492f" stroke="#7a2a1e" stroke-width="0.9"/>
<line x1="303.7" y1="391.4" x2="303.7" y2="396.8" stroke="#5d6066" stroke-width="1"/>
<rect x="301.8" y="393.2" width="3.8" height="1.8" fill="#d9492f" stroke="#7a2a1e" stroke-width="0.9"/>
<line x1="308.8" y1="392.9" x2="308.8" y2="398.3" stroke="#5d6066" stroke-width="1"/>
<rect x="306.9" y="394.7" width="3.8" height="1.8" fill="#d9492f" stroke="#7a2a1e" stroke-width="0.9"/>
<line x1="314.0" y1="392.9" x2="314.0" y2="398.3" stroke="#5d6066" stroke-width="1"/>
<rect x="312.1" y="394.7" width="3.8" height="1.8" fill="#5a9c70" stroke="#2f5f40" stroke-width="0.9"/>
<line x1="319.1" y1="391.4" x2="319.1" y2="396.8" stroke="#5d6066" stroke-width="1"/>
<rect x="317.2" y="393.2" width="3.8" height="1.8" fill="#5a9c70" stroke="#2f5f40" stroke-width="0.9"/>
<line x1="324.3" y1="390.8" x2="324.3" y2="396.2" stroke="#5d6066" stroke-width="1"/>
<rect x="322.4" y="392.6" width="3.8" height="1.8" fill="#d9492f" stroke="#7a2a1e" stroke-width="0.9"/>
<line x1="329.4" y1="390.3" x2="329.4" y2="395.7" stroke="#5d6066" stroke-width="1"/>
<rect x="327.5" y="392.1" width="3.8" height="1.8" fill="#5a9c70" stroke="#2f5f40" stroke-width="0.9"/>
<line x1="334.5" y1="384.2" x2="334.5" y2="392.7" stroke="#5d6066" stroke-width="1"/>
<rect x="332.6" y="385.7" width="3.8" height="5.5" fill="#5a9c70" stroke="#2f5f40" stroke-width="0.9"/>
<line x1="339.7" y1="383.0" x2="339.7" y2="388.4" stroke="#5d6066" stroke-width="1"/>
<rect x="337.8" y="384.8" width="3.8" height="1.8" fill="#d9492f" stroke="#7a2a1e" stroke-width="0.9"/>
<line x1="344.8" y1="383.8" x2="344.8" y2="389.5" stroke="#5d6066" stroke-width="1"/>
<rect x="342.9" y="385.3" width="3.8" height="2.7" fill="#d9492f" stroke="#7a2a1e" stroke-width="0.9"/>
<line x1="350.0" y1="385.3" x2="350.0" y2="390.7" stroke="#5d6066" stroke-width="1"/>
<rect x="348.1" y="387.1" width="3.8" height="1.8" fill="#d9492f" stroke="#7a2a1e" stroke-width="0.9"/>
<line x1="355.1" y1="387.9" x2="355.1" y2="392.7" stroke="#5d6066" stroke-width="1"/>
<rect x="353.2" y="389.4" width="3.8" height="1.8" fill="#d9492f" stroke="#7a2a1e" stroke-width="0.9"/>
<line x1="360.3" y1="388.9" x2="360.3" y2="394.3" stroke="#5d6066" stroke-width="1"/>
<rect x="358.4" y="390.7" width="3.8" height="1.8" fill="#d9492f" stroke="#7a2a1e" stroke-width="0.9"/>
<line x1="365.4" y1="389.7" x2="365.4" y2="395.1" stroke="#5d6066" stroke-width="1"/>
<rect x="363.5" y="391.5" width="3.8" height="1.8" fill="#d9492f" stroke="#7a2a1e" stroke-width="0.9"/>
<line x1="370.6" y1="388.2" x2="370.6" y2="393.6" stroke="#5d6066" stroke-width="1"/>
<rect x="368.7" y="390.0" width="3.8" height="1.8" fill="#5a9c70" stroke="#2f5f40" stroke-width="0.9"/>
<line x1="375.7" y1="387.2" x2="375.7" y2="392.6" stroke="#5d6066" stroke-width="1"/>
<rect x="373.8" y="389.0" width="3.8" height="1.8" fill="#5a9c70" stroke="#2f5f40" stroke-width="0.9"/>
<line x1="380.9" y1="387.4" x2="380.9" y2="392.8" stroke="#5d6066" stroke-width="1"/>
<rect x="379.0" y="389.2" width="3.8" height="1.8" fill="#d9492f" stroke="#7a2a1e" stroke-width="0.9"/>
<line x1="386.0" y1="387.1" x2="386.0" y2="395.0" stroke="#5d6066" stroke-width="1"/>
<rect x="384.1" y="388.6" width="3.8" height="4.9" fill="#d9492f" stroke="#7a2a1e" stroke-width="0.9"/>
<line x1="391.1" y1="391.3" x2="391.1" y2="396.7" stroke="#5d6066" stroke-width="1"/>
<rect x="389.2" y="393.1" width="3.8" height="1.8" fill="#5a9c70" stroke="#2f5f40" stroke-width="0.9"/>
<line x1="396.3" y1="390.0" x2="396.3" y2="395.4" stroke="#5d6066" stroke-width="1"/>
<rect x="394.4" y="391.8" width="3.8" height="1.8" fill="#5a9c70" stroke="#2f5f40" stroke-width="0.9"/>
<line x1="401.4" y1="390.0" x2="401.4" y2="395.4" stroke="#5d6066" stroke-width="1"/>
<rect x="399.5" y="391.8" width="3.8" height="1.8" fill="#5a9c70" stroke="#2f5f40" stroke-width="0.9"/>
<line x1="406.6" y1="389.2" x2="406.6" y2="394.6" stroke="#5d6066" stroke-width="1"/>
<rect x="404.7" y="391.0" width="3.8" height="1.8" fill="#d9492f" stroke="#7a2a1e" stroke-width="0.9"/>
<line x1="411.7" y1="391.6" x2="411.7" y2="397.0" stroke="#5d6066" stroke-width="1"/>
<rect x="409.8" y="393.4" width="3.8" height="1.8" fill="#d9492f" stroke="#7a2a1e" stroke-width="0.9"/>
<line x1="416.9" y1="392.4" x2="416.9" y2="397.8" stroke="#5d6066" stroke-width="1"/>
<rect x="415.0" y="394.2" width="3.8" height="1.8" fill="#5a9c70" stroke="#2f5f40" stroke-width="0.9"/>
<line x1="422.0" y1="391.9" x2="422.0" y2="397.3" stroke="#5d6066" stroke-width="1"/>
<rect x="420.1" y="393.7" width="3.8" height="1.8" fill="#5a9c70" stroke="#2f5f40" stroke-width="0.9"/>
<line x1="427.2" y1="390.8" x2="427.2" y2="396.2" stroke="#5d6066" stroke-width="1"/>
<rect x="425.3" y="392.6" width="3.8" height="1.8" fill="#d9492f" stroke="#7a2a1e" stroke-width="0.9"/>
<line x1="432.3" y1="391.6" x2="432.3" y2="397.0" stroke="#5d6066" stroke-width="1"/>
<rect x="430.4" y="393.4" width="3.8" height="1.8" fill="#5a9c70" stroke="#2f5f40" stroke-width="0.9"/>
<line x1="437.5" y1="391.9" x2="437.5" y2="397.3" stroke="#5d6066" stroke-width="1"/>
<rect x="435.6" y="393.7" width="3.8" height="1.8" fill="#5a9c70" stroke="#2f5f40" stroke-width="0.9"/>
<line x1="442.6" y1="392.4" x2="442.6" y2="397.8" stroke="#5d6066" stroke-width="1"/>
<rect x="440.7" y="394.2" width="3.8" height="1.8" fill="#d9492f" stroke="#7a2a1e" stroke-width="0.9"/>
<line x1="447.8" y1="392.9" x2="447.8" y2="398.3" stroke="#5d6066" stroke-width="1"/>
<rect x="445.9" y="394.7" width="3.8" height="1.8" fill="#d9492f" stroke="#7a2a1e" stroke-width="0.9"/>
<line x1="452.9" y1="392.4" x2="452.9" y2="397.8" stroke="#5d6066" stroke-width="1"/>
<rect x="451.0" y="394.2" width="3.8" height="1.8" fill="#5a9c70" stroke="#2f5f40" stroke-width="0.9"/>
<line x1="458.0" y1="389.5" x2="458.0" y2="397.1" stroke="#5d6066" stroke-width="1"/>
<rect x="456.1" y="391.0" width="3.8" height="4.6" fill="#5a9c70" stroke="#2f5f40" stroke-width="0.9"/>
<line x1="463.2" y1="376.5" x2="463.2" y2="390.9" stroke="#5d6066" stroke-width="1"/>
<rect x="461.3" y="378.0" width="3.8" height="11.4" fill="#5a9c70" stroke="#2f5f40" stroke-width="0.9"/>
<line x1="468.3" y1="370.0" x2="468.3" y2="379.5" stroke="#5d6066" stroke-width="1"/>
<rect x="466.4" y="371.5" width="3.8" height="6.5" fill="#5a9c70" stroke="#2f5f40" stroke-width="0.9"/>
<line x1="473.5" y1="366.0" x2="473.5" y2="371.7" stroke="#5d6066" stroke-width="1"/>
<rect x="471.6" y="367.5" width="3.8" height="2.7" fill="#5a9c70" stroke="#2f5f40" stroke-width="0.9"/>
<line x1="478.6" y1="366.0" x2="478.6" y2="371.4" stroke="#5d6066" stroke-width="1"/>
<rect x="476.7" y="367.8" width="3.8" height="1.8" fill="#d9492f" stroke="#7a2a1e" stroke-width="0.9"/>
<line x1="483.8" y1="366.5" x2="483.8" y2="372.8" stroke="#5d6066" stroke-width="1"/>
<rect x="481.9" y="368.0" width="3.8" height="3.3" fill="#d9492f" stroke="#7a2a1e" stroke-width="0.9"/>
<line x1="488.9" y1="369.8" x2="488.9" y2="375.5" stroke="#5d6066" stroke-width="1"/>
<rect x="487.0" y="371.3" width="3.8" height="2.7" fill="#d9492f" stroke="#7a2a1e" stroke-width="0.9"/>
<line x1="494.1" y1="371.9" x2="494.1" y2="377.3" stroke="#5d6066" stroke-width="1"/>
<rect x="492.2" y="373.7" width="3.8" height="1.8" fill="#d9492f" stroke="#7a2a1e" stroke-width="0.9"/>
<line x1="499.2" y1="371.9" x2="499.2" y2="377.3" stroke="#5d6066" stroke-width="1"/>
<rect x="497.3" y="373.7" width="3.8" height="1.8" fill="#5a9c70" stroke="#2f5f40" stroke-width="0.9"/>
<line x1="504.4" y1="370.6" x2="504.4" y2="376.0" stroke="#5d6066" stroke-width="1"/>
<rect x="502.5" y="372.4" width="3.8" height="1.8" fill="#d9492f" stroke="#7a2a1e" stroke-width="0.9"/>
<line x1="509.5" y1="371.9" x2="509.5" y2="377.3" stroke="#5d6066" stroke-width="1"/>
<rect x="507.6" y="373.7" width="3.8" height="1.8" fill="#5a9c70" stroke="#2f5f40" stroke-width="0.9"/>
<line x1="514.7" y1="363.2" x2="514.7" y2="375.5" stroke="#5d6066" stroke-width="1"/>
<rect x="512.8" y="364.7" width="3.8" height="9.3" fill="#5a9c70" stroke="#2f5f40" stroke-width="0.9"/>
<line x1="519.8" y1="371.0" x2="519.8" y2="376.4" stroke="#5d6066" stroke-width="1"/>
<rect x="517.9" y="372.8" width="3.8" height="1.8" fill="#d9492f" stroke="#7a2a1e" stroke-width="0.9"/>
<line x1="524.9" y1="370.9" x2="524.9" y2="378.7" stroke="#5d6066" stroke-width="1"/>
<rect x="523.0" y="372.4" width="3.8" height="4.8" fill="#5a9c70" stroke="#2f5f40" stroke-width="0.9"/>
<line x1="530.1" y1="369.3" x2="530.1" y2="374.7" stroke="#5d6066" stroke-width="1"/>
<rect x="528.2" y="371.1" width="3.8" height="1.8" fill="#5a9c70" stroke="#2f5f40" stroke-width="0.9"/>
<line x1="535.2" y1="369.9" x2="535.2" y2="375.3" stroke="#5d6066" stroke-width="1"/>
<rect x="533.3" y="371.7" width="3.8" height="1.8" fill="#d9492f" stroke="#7a2a1e" stroke-width="0.9"/>
<line x1="540.4" y1="371.3" x2="540.4" y2="376.7" stroke="#5d6066" stroke-width="1"/>
<rect x="538.5" y="373.1" width="3.8" height="1.8" fill="#d9492f" stroke="#7a2a1e" stroke-width="0.9"/>
<line x1="545.5" y1="371.5" x2="545.5" y2="376.9" stroke="#5d6066" stroke-width="1"/>
<rect x="543.6" y="373.3" width="3.8" height="1.8" fill="#d9492f" stroke="#7a2a1e" stroke-width="0.9"/>
<line x1="550.7" y1="371.9" x2="550.7" y2="377.3" stroke="#5d6066" stroke-width="1"/>
<rect x="548.8" y="373.7" width="3.8" height="1.8" fill="#5a9c70" stroke="#2f5f40" stroke-width="0.9"/>
<line x1="555.8" y1="371.0" x2="555.8" y2="376.4" stroke="#5d6066" stroke-width="1"/>
<rect x="553.9" y="372.8" width="3.8" height="1.8" fill="#d9492f" stroke="#7a2a1e" stroke-width="0.9"/>
<line x1="561.0" y1="371.8" x2="561.0" y2="380.7" stroke="#5d6066" stroke-width="1"/>
<rect x="559.1" y="373.3" width="3.8" height="5.9" fill="#d9492f" stroke="#7a2a1e" stroke-width="0.9"/>
<line x1="566.1" y1="379.3" x2="566.1" y2="387.0" stroke="#5d6066" stroke-width="1"/>
<rect x="564.2" y="380.8" width="3.8" height="4.7" fill="#d9492f" stroke="#7a2a1e" stroke-width="0.9"/>
<line x1="571.3" y1="382.4" x2="571.3" y2="387.8" stroke="#5d6066" stroke-width="1"/>
<rect x="569.4" y="384.2" width="3.8" height="1.8" fill="#5a9c70" stroke="#2f5f40" stroke-width="0.9"/>
<line x1="576.4" y1="381.1" x2="576.4" y2="386.5" stroke="#5d6066" stroke-width="1"/>
<rect x="574.5" y="382.9" width="3.8" height="1.8" fill="#d9492f" stroke="#7a2a1e" stroke-width="0.9"/>
<line x1="581.6" y1="380.7" x2="581.6" y2="386.1" stroke="#5d6066" stroke-width="1"/>
<rect x="579.7" y="382.5" width="3.8" height="1.8" fill="#5a9c70" stroke="#2f5f40" stroke-width="0.9"/>
<line x1="586.7" y1="380.2" x2="586.7" y2="386.7" stroke="#5d6066" stroke-width="1"/>
<rect x="584.8" y="381.7" width="3.8" height="3.5" fill="#d9492f" stroke="#7a2a1e" stroke-width="0.9"/>
<line x1="591.8" y1="381.1" x2="591.8" y2="386.5" stroke="#5d6066" stroke-width="1"/>
<rect x="589.9" y="382.9" width="3.8" height="1.8" fill="#5a9c70" stroke="#2f5f40" stroke-width="0.9"/>
<line x1="597.0" y1="377.9" x2="597.0" y2="383.3" stroke="#5d6066" stroke-width="1"/>
<rect x="595.1" y="379.7" width="3.8" height="1.8" fill="#5a9c70" stroke="#2f5f40" stroke-width="0.9"/>
<line x1="602.1" y1="380.0" x2="602.1" y2="385.4" stroke="#5d6066" stroke-width="1"/>
<rect x="600.2" y="381.8" width="3.8" height="1.8" fill="#5a9c70" stroke="#2f5f40" stroke-width="0.9"/>
<line x1="607.3" y1="379.0" x2="607.3" y2="384.4" stroke="#5d6066" stroke-width="1"/>
<rect x="605.4" y="380.8" width="3.8" height="1.8" fill="#d9492f" stroke="#7a2a1e" stroke-width="0.9"/>
<line x1="612.4" y1="376.0" x2="612.4" y2="383.6" stroke="#5d6066" stroke-width="1"/>
<rect x="610.5" y="377.5" width="3.8" height="4.6" fill="#5a9c70" stroke="#2f5f40" stroke-width="0.9"/>
<line x1="617.6" y1="374.2" x2="617.6" y2="379.6" stroke="#5d6066" stroke-width="1"/>
<rect x="615.7" y="376.0" width="3.8" height="1.8" fill="#d9492f" stroke="#7a2a1e" stroke-width="0.9"/>
<line x1="622.7" y1="374.2" x2="622.7" y2="379.6" stroke="#5d6066" stroke-width="1"/>
<rect x="620.8" y="376.0" width="3.8" height="1.8" fill="#d9492f" stroke="#7a2a1e" stroke-width="0.9"/>
<line x1="627.9" y1="373.8" x2="627.9" y2="379.2" stroke="#5d6066" stroke-width="1"/>
<rect x="626.0" y="375.6" width="3.8" height="1.8" fill="#5a9c70" stroke="#2f5f40" stroke-width="0.9"/>
<line x1="633.0" y1="370.6" x2="633.0" y2="376.0" stroke="#5d6066" stroke-width="1"/>
<rect x="631.1" y="372.4" width="3.8" height="1.8" fill="#d9492f" stroke="#7a2a1e" stroke-width="0.9"/>
<line x1="638.2" y1="369.6" x2="638.2" y2="375.0" stroke="#5d6066" stroke-width="1"/>
<rect x="636.3" y="371.4" width="3.8" height="1.8" fill="#5a9c70" stroke="#2f5f40" stroke-width="0.9"/>
<line x1="643.3" y1="369.2" x2="643.3" y2="374.6" stroke="#5d6066" stroke-width="1"/>
<rect x="641.4" y="371.0" width="3.8" height="1.8" fill="#d9492f" stroke="#7a2a1e" stroke-width="0.9"/>
<line x1="648.5" y1="356.6" x2="648.5" y2="372.8" stroke="#5d6066" stroke-width="1"/>
<rect x="646.6" y="358.1" width="3.8" height="13.2" fill="#5a9c70" stroke="#2f5f40" stroke-width="0.9"/>
<line x1="653.6" y1="352.0" x2="653.6" y2="358.8" stroke="#5d6066" stroke-width="1"/>
<rect x="651.7" y="353.5" width="3.8" height="3.8" fill="#5a9c70" stroke="#2f5f40" stroke-width="0.9"/>
<line x1="658.7" y1="350.4" x2="658.7" y2="355.8" stroke="#5d6066" stroke-width="1"/>
<rect x="656.8" y="352.2" width="3.8" height="1.8" fill="#d9492f" stroke="#7a2a1e" stroke-width="0.9"/>
<line x1="663.9" y1="338.5" x2="663.9" y2="354.7" stroke="#5d6066" stroke-width="1"/>
<rect x="662.0" y="340.0" width="3.8" height="13.2" fill="#5a9c70" stroke="#2f5f40" stroke-width="0.9"/>
<line x1="669.0" y1="333.5" x2="669.0" y2="342.1" stroke="#5d6066" stroke-width="1"/>
<rect x="667.1" y="335.0" width="3.8" height="5.6" fill="#5a9c70" stroke="#2f5f40" stroke-width="0.9"/>
<line x1="674.2" y1="326.8" x2="674.2" y2="336.5" stroke="#5d6066" stroke-width="1"/>
<rect x="672.3" y="328.3" width="3.8" height="6.7" fill="#5a9c70" stroke="#2f5f40" stroke-width="0.9"/>
<line x1="679.3" y1="320.5" x2="679.3" y2="334.5" stroke="#5d6066" stroke-width="1"/>
<rect x="677.4" y="322.0" width="3.8" height="11.0" fill="#5a9c70" stroke="#2f5f40" stroke-width="0.9"/>
<line x1="684.5" y1="303.0" x2="684.5" y2="325.0" stroke="#5d6066" stroke-width="1"/>
<rect x="682.6" y="306.0" width="3.8" height="16.0" fill="#5a9c70" stroke="#2f5f40" stroke-width="0.9"/>
<line x1="689.6" y1="275.0" x2="689.6" y2="309.0" stroke="#5d6066" stroke-width="1"/>
<rect x="687.7" y="278.0" width="3.8" height="28.0" fill="#5a9c70" stroke="#2f5f40" stroke-width="0.9"/>
<line x1="694.8" y1="275.0" x2="694.8" y2="315.0" stroke="#5d6066" stroke-width="1"/>
<rect x="692.9" y="280.0" width="3.8" height="21.0" fill="#d9492f" stroke="#7a2a1e" stroke-width="0.9"/>
<line x1="699.9" y1="261.4" x2="699.9" y2="300.0" stroke="#5d6066" stroke-width="1"/>
<rect x="698.0" y="270.0" width="3.8" height="27.0" fill="#5a9c70" stroke="#2f5f40" stroke-width="0.9"/>
<line x1="705.1" y1="260.6" x2="705.1" y2="278.0" stroke="#5d6066" stroke-width="1"/>
<rect x="703.2" y="265.3" width="3.8" height="10.1" fill="#d9492f" stroke="#7a2a1e" stroke-width="0.9"/>
<line x1="710.2" y1="214.0" x2="710.2" y2="252.0" stroke="#5d6066" stroke-width="1"/>
<rect x="708.3" y="236.3" width="3.8" height="9.0" fill="#5a9c70" stroke="#2f5f40" stroke-width="0.9"/>
<line x1="715.3" y1="224.0" x2="715.3" y2="273.0" stroke="#5d6066" stroke-width="1"/>
<rect x="713.4" y="228.5" width="3.8" height="9.8" fill="#d9492f" stroke="#7a2a1e" stroke-width="0.9"/>
<line x1="720.5" y1="185.3" x2="720.5" y2="237.0" stroke="#5d6066" stroke-width="1"/>
<rect x="718.6" y="203.5" width="3.8" height="31.2" fill="#5a9c70" stroke="#2f5f40" stroke-width="0.9"/>
<line x1="725.6" y1="181.0" x2="725.6" y2="211.8" stroke="#5d6066" stroke-width="1"/>
<rect x="723.7" y="198.7" width="3.8" height="5.3" fill="#5a9c70" stroke="#2f5f40" stroke-width="0.9"/>
<line x1="730.8" y1="179.8" x2="730.8" y2="263.4" stroke="#5d6066" stroke-width="1"/>
<rect x="728.9" y="189.0" width="3.8" height="46.0" fill="#d9492f" stroke="#7a2a1e" stroke-width="0.9"/>
<line x1="735.9" y1="225.3" x2="735.9" y2="292.5" stroke="#5d6066" stroke-width="1"/>
<rect x="734.0" y="243.3" width="3.8" height="26.9" fill="#d9492f" stroke="#7a2a1e" stroke-width="0.9"/>
<line x1="741.1" y1="236.0" x2="741.1" y2="277.3" stroke="#5d6066" stroke-width="1"/>
<rect x="739.2" y="239.8" width="3.8" height="30.4" fill="#5a9c70" stroke="#2f5f40" stroke-width="0.9"/>
<line x1="746.2" y1="223.0" x2="746.2" y2="255.6" stroke="#5d6066" stroke-width="1"/>
<rect x="744.3" y="224.6" width="3.8" height="18.7" fill="#5a9c70" stroke="#2f5f40" stroke-width="0.9"/>
<line x1="751.4" y1="220.0" x2="751.4" y2="265.0" stroke="#5d6066" stroke-width="1"/>
<rect x="749.5" y="223.8" width="3.8" height="38.3" fill="#d9492f" stroke="#7a2a1e" stroke-width="0.9"/>
<line x1="756.5" y1="255.0" x2="756.5" y2="291.4" stroke="#5d6066" stroke-width="1"/>
<rect x="754.6" y="260.0" width="3.8" height="12.3" fill="#d9492f" stroke="#7a2a1e" stroke-width="0.9"/>
<line x1="761.7" y1="250.0" x2="761.7" y2="273.0" stroke="#5d6066" stroke-width="1"/>
<rect x="759.8" y="264.3" width="3.8" height="5.9" fill="#5a9c70" stroke="#2f5f40" stroke-width="0.9"/>
<line x1="766.8" y1="252.0" x2="766.8" y2="280.0" stroke="#5d6066" stroke-width="1"/>
<rect x="764.9" y="256.7" width="3.8" height="19.5" fill="#5a9c70" stroke="#2f5f40" stroke-width="0.9"/>
<line x1="772.0" y1="198.0" x2="772.0" y2="250.0" stroke="#5d6066" stroke-width="1"/>
<rect x="770.1" y="201.4" width="3.8" height="46.6" fill="#5a9c70" stroke="#2f5f40" stroke-width="0.9"/>
<line x1="777.1" y1="173.0" x2="777.1" y2="210.0" stroke="#5d6066" stroke-width="1"/>
<rect x="775.2" y="177.0" width="3.8" height="31.6" fill="#5a9c70" stroke="#2f5f40" stroke-width="0.9"/>
<line x1="782.2" y1="167.0" x2="782.2" y2="195.0" stroke="#5d6066" stroke-width="1"/>
<rect x="780.3" y="184.0" width="3.8" height="2.0" fill="#5a9c70" stroke="#2f5f40" stroke-width="0.9"/>
<line x1="787.4" y1="148.4" x2="787.4" y2="197.2" stroke="#5d6066" stroke-width="1"/>
<rect x="785.5" y="173.4" width="3.8" height="15.6" fill="#5a9c70" stroke="#2f5f40" stroke-width="0.9"/>
<line x1="792.5" y1="134.1" x2="792.5" y2="204.9" stroke="#5d6066" stroke-width="1"/>
<rect x="790.6" y="174.2" width="3.8" height="23.2" fill="#d9492f" stroke="#7a2a1e" stroke-width="0.9"/>
<line x1="3" y1="170.4" x2="1134" y2="170.4" stroke="#f59a2a" stroke-width="1" stroke-dasharray="1 1.6"/>
<line x1="3" y1="197.2" x2="1134" y2="197.2" stroke="#e4685c" stroke-width="1" stroke-dasharray="1 1.6"/>
<polyline points="2.3,449.7 7.0,456.0 20.5,489.8 26.1,489.1 35.0,487.5 40.8,494.5 57.2,500.8 66.5,495.7 77.0,487.5 82.8,475.1 92.9,461.8 97.5,461.8 113.9,432.2 119.0,439.7 133.5,475.8 144.2,483.3 149.3,482.8 154.5,492.2 165.2,502.7 172.2,498.0 180.1,498.5 190.9,495.2 200.2,467.7 205.8,443.2 215.8,430.3 221.2,432.0 226.3,427.3 231.0,430.3 241.5,457.9 252.0,470.0 256.7,470.0 271.8,498.0 279.3,491.5 292.9,482.1 299.2,470.5 303.8,465.8 309.2,469.5 313.9,469.5 319.5,454.8 328.8,439.2 334.2,439.2 339.5,429.9 344.7,435.5 350.5,441.5 355.2,453.2 365.2,471.2 370.8,466.5 376.2,459.5 380.1,452.5 395.5,488.2 405.8,483.5 421.2,495.2 431.5,489.1 438.0,490.5 447.8,495.2 452.5,495.7 457.8,461.1 468.3,416.8 478.1,416.3 493.5,432.2 499.8,435.0 509.2,433.8 514.5,426.8 524.8,428.5 530.2,437.8 539.5,455.5 544.7,468.1 555.2,468.1 560.5,478.2 565.7,489.8 570.8,496.8 576.2,494.5 581.5,488.7 586.7,489.8 591.8,487.5 601.8,475.8 607.2,472.8 612.3,466.5 622.8,449.5 628.2,444.8 633.3,433.8 638.0,429.9 643.1,432.2 647.8,430.8 657.8,418.7 663.2,420.5 679.5,412.8 684.7,414.0 689.3,412.1 694.0,420.5 699.1,421.5 704.5,423.8 709.9,420.5 715.0,423.8 725.5,422.2 731.3,429.2 736.0,442.0 741.1,449.5 750.0,449.5 761.2,471.2 766.3,474.2 782.7,421.5 787.3,421.5 792.5,433.8" fill="none" stroke="#ff7f1e" stroke-width="1.5" stroke-linejoin="round" stroke-linecap="round"/>
<polyline points="2.3,458.3 5.1,450.2 15.2,502.0 25.2,475.8 30.3,495.7 35.5,491.7 46.7,502.2 51.8,496.8 57.2,502.7 62.5,493.8 77.0,482.1 82.1,455.3 87.5,469.5 92.9,460.0 98.0,454.8 103.8,436.2 109.7,428.5 113.9,432.0 117.8,454.8 133.0,487.0 138.8,475.4 144.2,489.8 149.3,482.8 154.5,506.2 163.3,501.5 169.9,495.2 175.0,496.8 180.1,505.0 185.5,492.2 190.2,491.7 195.5,461.1 201.1,450.9 205.8,418.2 211.2,438.5 217.0,434.5 221.2,423.3 225.9,424.5 235.7,449.0 241.5,476.5 246.9,461.1 252.0,473.5 256.7,475.1 262.5,492.9 267.9,503.4 277.5,481.7 282.8,494.5 292.9,467.7 298.0,461.1 303.8,467.7 309.2,479.3 314.3,461.1 319.5,427.5 324.8,454.8 329.5,433.1 334.2,429.2 338.8,428.5 344.7,443.9 350.5,449.5 355.2,467.2 359.8,472.8 365.2,474.2 370.8,454.8 375.5,452.5 380.1,449.5 385.5,491.5 390.9,487.5 396.5,484.0 405.8,481.2 411.9,499.9 417.0,496.1 421.7,488.2 428.2,490.5 433.3,489.1 437.5,491.5 442.7,497.5 447.8,499.2 452.5,491.0 457.8,415.9 463.2,420.5 468.3,413.5 478.1,418.2 484.2,426.1 493.5,438.5 498.7,432.2 504.5,435.5 509.2,433.1 514.5,410.5 519.7,440.1 524.8,435.0 529.5,435.5 534.8,464.2 540.2,466.5 545.1,475.1 549.8,461.8 555.2,467.2 560.5,501.5 565.7,501.5 570.8,489.8 576.2,494.5 581.5,482.1 586.2,496.1 596.0,468.8 601.8,473.5 607.2,478.2 612.3,450.9 617.0,449.5 622.8,450.9 627.5,436.2 632.9,417.5 638.0,437.3 642.7,442.0 647.8,412.8 653.2,420.5 657.8,422.9 668.8,411.7 674.2,416.3 679.5,411.2 689.3,411.2 694.0,435.0 699.1,415.9 704.5,422.9 715.0,424.5 720.1,421.0 725.5,421.5 735.5,461.8 745.3,438.5 750.5,463.0 755.8,475.8 765.9,473.5 772.2,429.2 776.8,412.8 782.2,423.3 787.3,427.5 792.5,449.1" fill="none" stroke="#3a6df0" stroke-width="1.5" stroke-linejoin="round" stroke-linecap="round"/>
<rect x="3.3" y="596.8" width="3.8" height="1.2" fill="#ff5252"/>
<rect x="8.4" y="596.8" width="3.8" height="1.5" fill="#ff5252"/>
<rect x="13.6" y="596.8" width="3.8" height="1.5" fill="#ff5252"/>
<rect x="18.7" y="596.8" width="3.8" height="1.2" fill="#ff5252"/>
<rect x="23.9" y="596.8" width="3.8" height="1.2" fill="#ffcdd2"/>
<rect x="29.0" y="596.8" width="3.8" height="1.2" fill="#ffcdd2"/>
<rect x="34.2" y="595.6" width="3.8" height="1.2" fill="#b2dfdb"/>
<rect x="39.3" y="595.6" width="3.8" height="1.2" fill="#b2dfdb"/>
<rect x="44.5" y="595.6" width="3.8" height="1.2" fill="#b2dfdb"/>
<rect x="49.6" y="595.6" width="3.8" height="1.2" fill="#b2dfdb"/>
<rect x="54.8" y="596.8" width="3.8" height="1.2" fill="#ffcdd2"/>
<rect x="59.9" y="596.8" width="3.8" height="1.2" fill="#ffcdd2"/>
<rect x="65.1" y="596.8" width="3.8" height="1.2" fill="#ffcdd2"/>
<rect x="70.2" y="596.8" width="3.8" height="1.2" fill="#ffcdd2"/>
<rect x="75.3" y="596.8" width="3.8" height="1.2" fill="#ffcdd2"/>
<rect x="80.5" y="596.8" width="3.8" height="1.2" fill="#ffcdd2"/>
<rect x="85.6" y="596.8" width="3.8" height="1.2" fill="#ffcdd2"/>
<rect x="90.8" y="596.8" width="3.8" height="1.2" fill="#ffcdd2"/>
<rect x="95.9" y="595.6" width="3.8" height="1.2" fill="#b2dfdb"/>
<rect x="101.1" y="595.2" width="3.8" height="1.6" fill="#26a69a"/>
<rect x="106.2" y="595.2" width="3.8" height="1.6" fill="#26a69a"/>
<rect x="111.4" y="595.2" width="3.8" height="1.6" fill="#26a69a"/>
<rect x="116.5" y="595.6" width="3.8" height="1.2" fill="#b2dfdb"/>
<rect x="121.7" y="595.6" width="3.8" height="1.2" fill="#b2dfdb"/>
<rect x="126.8" y="595.6" width="3.8" height="1.2" fill="#b2dfdb"/>
<rect x="131.9" y="595.6" width="3.8" height="1.2" fill="#b2dfdb"/>
<rect x="137.1" y="595.6" width="3.8" height="1.2" fill="#b2dfdb"/>
<rect x="142.2" y="595.6" width="3.8" height="1.2" fill="#b2dfdb"/>
<rect x="147.4" y="595.6" width="3.8" height="1.2" fill="#b2dfdb"/>
<rect x="152.5" y="596.8" width="3.8" height="1.2" fill="#ffcdd2"/>
<rect x="157.7" y="596.8" width="3.8" height="1.3" fill="#ff5252"/>
<rect x="162.8" y="596.8" width="3.8" height="1.3" fill="#ff5252"/>
<rect x="168.0" y="596.8" width="3.8" height="1.3" fill="#ff5252"/>
<rect x="173.1" y="596.8" width="3.8" height="1.3" fill="#ff5252"/>
<rect x="178.3" y="596.8" width="3.8" height="2.0" fill="#ff5252"/>
<rect x="183.4" y="596.8" width="3.8" height="1.2" fill="#ffcdd2"/>
<rect x="188.6" y="596.8" width="3.8" height="1.2" fill="#ffcdd2"/>
<rect x="193.7" y="596.8" width="3.8" height="1.2" fill="#ffcdd2"/>
<rect x="198.8" y="595.6" width="3.8" height="1.2" fill="#b2dfdb"/>
<rect x="204.0" y="595.3" width="3.8" height="1.5" fill="#26a69a"/>
<rect x="209.1" y="595.3" width="3.8" height="1.5" fill="#26a69a"/>
<rect x="214.3" y="595.3" width="3.8" height="1.5" fill="#26a69a"/>
<rect x="219.4" y="594.5" width="3.8" height="2.3" fill="#26a69a"/>
<rect x="224.6" y="594.5" width="3.8" height="2.3" fill="#26a69a"/>
<rect x="229.7" y="595.6" width="3.8" height="1.2" fill="#b2dfdb"/>
<rect x="234.9" y="595.6" width="3.8" height="1.2" fill="#b2dfdb"/>
<rect x="240.0" y="595.6" width="3.8" height="1.2" fill="#b2dfdb"/>
<rect x="245.2" y="595.6" width="3.8" height="1.2" fill="#b2dfdb"/>
<rect x="250.3" y="596.8" width="3.8" height="1.2" fill="#ffcdd2"/>
<rect x="255.5" y="596.8" width="3.8" height="1.2" fill="#ffcdd2"/>
<rect x="260.6" y="596.8" width="3.8" height="1.2" fill="#ff5252"/>
<rect x="265.7" y="596.8" width="3.8" height="1.2" fill="#ff5252"/>
<rect x="270.9" y="596.8" width="3.8" height="1.2" fill="#ffcdd2"/>
<rect x="276.0" y="596.8" width="3.8" height="1.2" fill="#ffcdd2"/>
<rect x="281.2" y="596.8" width="3.8" height="1.2" fill="#ffcdd2"/>
<rect x="286.3" y="596.8" width="3.8" height="1.2" fill="#ffcdd2"/>
<rect x="291.5" y="595.6" width="3.8" height="1.2" fill="#b2dfdb"/>
<rect x="296.6" y="595.6" width="3.8" height="1.2" fill="#b2dfdb"/>
<rect x="301.8" y="595.6" width="3.8" height="1.2" fill="#b2dfdb"/>
<rect x="306.9" y="595.6" width="3.8" height="1.2" fill="#b2dfdb"/>
<rect x="312.1" y="595.6" width="3.8" height="1.2" fill="#b2dfdb"/>
<rect x="317.2" y="595.6" width="3.8" height="1.2" fill="#26a69a"/>
<rect x="322.4" y="595.6" width="3.8" height="1.2" fill="#26a69a"/>
<rect x="327.5" y="595.6" width="3.8" height="1.2" fill="#26a69a"/>
<rect x="332.6" y="594.8" width="3.8" height="2.0" fill="#26a69a"/>
<rect x="337.8" y="594.0" width="3.8" height="2.8" fill="#26a69a"/>
<rect x="342.9" y="595.6" width="3.8" height="1.2" fill="#b2dfdb"/>
<rect x="348.1" y="595.6" width="3.8" height="1.2" fill="#b2dfdb"/>
<rect x="353.2" y="595.6" width="3.8" height="1.2" fill="#b2dfdb"/>
<rect x="358.4" y="595.6" width="3.8" height="1.2" fill="#b2dfdb"/>
<rect x="363.5" y="595.6" width="3.8" height="1.2" fill="#b2dfdb"/>
<rect x="368.7" y="595.6" width="3.8" height="1.2" fill="#26a69a"/>
<rect x="373.8" y="595.6" width="3.8" height="1.2" fill="#26a69a"/>
<rect x="379.0" y="595.6" width="3.8" height="1.2" fill="#b2dfdb"/>
<rect x="384.1" y="596.8" width="3.8" height="1.2" fill="#ffcdd2"/>
<rect x="389.2" y="596.8" width="3.8" height="1.2" fill="#ff5252"/>
<rect x="394.4" y="596.8" width="3.8" height="1.2" fill="#ff5252"/>
<rect x="399.5" y="596.8" width="3.8" height="1.2" fill="#ff5252"/>
<rect x="404.7" y="596.8" width="3.8" height="1.2" fill="#ffcdd2"/>
<rect x="409.8" y="596.8" width="3.8" height="1.2" fill="#ffcdd2"/>
<rect x="415.0" y="595.6" width="3.8" height="1.2" fill="#b2dfdb"/>
<rect x="420.1" y="595.6" width="3.8" height="1.2" fill="#b2dfdb"/>
<rect x="425.3" y="595.6" width="3.8" height="1.2" fill="#b2dfdb"/>
<rect x="430.4" y="595.6" width="3.8" height="1.2" fill="#b2dfdb"/>
<rect x="435.6" y="596.8" width="3.8" height="1.2" fill="#ffcdd2"/>
<rect x="440.7" y="596.8" width="3.8" height="1.2" fill="#ff5252"/>
<rect x="445.9" y="596.8" width="3.8" height="1.2" fill="#ff5252"/>
<rect x="451.0" y="596.8" width="3.8" height="1.2" fill="#ffcdd2"/>
<rect x="456.1" y="595.6" width="3.8" height="1.2" fill="#b2dfdb"/>
<rect x="461.3" y="594.1" width="3.8" height="2.7" fill="#26a69a"/>
<rect x="466.4" y="591.8" width="3.8" height="5.0" fill="#26a69a"/>
<rect x="471.6" y="591.1" width="3.8" height="5.7" fill="#26a69a"/>
<rect x="476.7" y="590.3" width="3.8" height="6.5" fill="#26a69a"/>
<rect x="481.9" y="592.3" width="3.8" height="4.5" fill="#b2dfdb"/>
<rect x="487.0" y="592.5" width="3.8" height="4.3" fill="#b2dfdb"/>
<rect x="492.2" y="592.6" width="3.8" height="4.2" fill="#b2dfdb"/>
<rect x="497.3" y="592.8" width="3.8" height="4.0" fill="#b2dfdb"/>
<rect x="502.5" y="593.3" width="3.8" height="3.5" fill="#b2dfdb"/>
<rect x="507.6" y="594.4" width="3.8" height="2.4" fill="#b2dfdb"/>
<rect x="512.8" y="593.3" width="3.8" height="3.5" fill="#26a69a"/>
<rect x="517.9" y="595.6" width="3.8" height="1.2" fill="#b2dfdb"/>
<rect x="523.0" y="595.6" width="3.8" height="1.2" fill="#b2dfdb"/>
<rect x="528.2" y="595.6" width="3.8" height="1.2" fill="#b2dfdb"/>
<rect x="533.3" y="596.8" width="3.8" height="1.2" fill="#ffcdd2"/>
<rect x="538.5" y="596.8" width="3.8" height="1.2" fill="#ff5252"/>
<rect x="543.6" y="596.8" width="3.8" height="1.8" fill="#ff5252"/>
<rect x="548.8" y="596.8" width="3.8" height="1.8" fill="#ff5252"/>
<rect x="553.9" y="596.8" width="3.8" height="1.8" fill="#ff5252"/>
<rect x="559.1" y="596.8" width="3.8" height="2.8" fill="#ff5252"/>
<rect x="564.2" y="596.8" width="3.8" height="3.7" fill="#ff5252"/>
<rect x="569.4" y="596.8" width="3.8" height="4.6" fill="#ff5252"/>
<rect x="574.5" y="596.8" width="3.8" height="4.6" fill="#ff5252"/>
<rect x="579.7" y="596.8" width="3.8" height="4.2" fill="#ffcdd2"/>
<rect x="584.8" y="596.8" width="3.8" height="4.6" fill="#ff5252"/>
<rect x="589.9" y="596.8" width="3.8" height="3.0" fill="#ffcdd2"/>
<rect x="595.1" y="596.8" width="3.8" height="2.0" fill="#ffcdd2"/>
<rect x="600.2" y="596.8" width="3.8" height="1.5" fill="#ffcdd2"/>
<rect x="605.4" y="596.8" width="3.8" height="1.2" fill="#ffcdd2"/>
<rect x="610.5" y="596.8" width="3.8" height="1.2" fill="#ffcdd2"/>
<rect x="615.7" y="596.8" width="3.8" height="1.2" fill="#ffcdd2"/>
<rect x="620.8" y="596.8" width="3.8" height="1.2" fill="#ffcdd2"/>
<rect x="626.0" y="595.6" width="3.8" height="1.2" fill="#26a69a"/>
<rect x="631.1" y="595.6" width="3.8" height="1.2" fill="#26a69a"/>
<rect x="636.3" y="595.6" width="3.8" height="1.2" fill="#26a69a"/>
<rect x="641.4" y="594.8" width="3.8" height="2.0" fill="#26a69a"/>
<rect x="646.6" y="593.5" width="3.8" height="3.3" fill="#26a69a"/>
<rect x="651.7" y="591.7" width="3.8" height="5.1" fill="#26a69a"/>
<rect x="656.8" y="591.2" width="3.8" height="5.6" fill="#26a69a"/>
<rect x="662.0" y="589.3" width="3.8" height="7.5" fill="#26a69a"/>
<rect x="667.1" y="588.2" width="3.8" height="8.6" fill="#26a69a"/>
<rect x="672.3" y="587.0" width="3.8" height="9.8" fill="#26a69a"/>
<rect x="677.4" y="586.5" width="3.8" height="10.3" fill="#26a69a"/>
<rect x="682.6" y="585.1" width="3.8" height="11.7" fill="#26a69a"/>
<rect x="687.7" y="580.5" width="3.8" height="16.3" fill="#26a69a"/>
<rect x="692.9" y="582.3" width="3.8" height="14.5" fill="#b2dfdb"/>
<rect x="698.0" y="580.5" width="3.8" height="16.3" fill="#26a69a"/>
<rect x="703.2" y="580.5" width="3.8" height="16.3" fill="#b2dfdb"/>
<rect x="708.3" y="577.2" width="3.8" height="19.6" fill="#26a69a"/>
<rect x="713.4" y="577.2" width="3.8" height="19.6" fill="#26a69a"/>
<rect x="718.6" y="573.7" width="3.8" height="23.1" fill="#26a69a"/>
<rect x="723.7" y="573.0" width="3.8" height="23.8" fill="#26a69a"/>
<rect x="728.9" y="578.8" width="3.8" height="18.0" fill="#b2dfdb"/>
<rect x="734.0" y="588.2" width="3.8" height="8.6" fill="#b2dfdb"/>
<rect x="739.2" y="590.5" width="3.8" height="6.3" fill="#b2dfdb"/>
<rect x="744.3" y="592.1" width="3.8" height="4.7" fill="#b2dfdb"/>
<rect x="749.5" y="596.8" width="3.8" height="1.9" fill="#ff5252"/>
<rect x="754.6" y="596.8" width="3.8" height="7.0" fill="#ff5252"/>
<rect x="759.8" y="596.8" width="3.8" height="10.0" fill="#ff5252"/>
<rect x="764.9" y="596.8" width="3.8" height="11.2" fill="#ff5252"/>
<rect x="770.1" y="596.8" width="3.8" height="4.2" fill="#ffcdd2"/>
<rect x="775.2" y="594.0" width="3.8" height="2.8" fill="#26a69a"/>
<rect x="780.3" y="591.7" width="3.8" height="5.1" fill="#26a69a"/>
<rect x="785.5" y="589.3" width="3.8" height="7.5" fill="#26a69a"/>
<rect x="790.6" y="591.7" width="3.8" height="5.1" fill="#b2dfdb"/>
<path d="M2.5,593.0 C5.2,593.5 10.1,594.8 18.8,596.0 C27.6,597.2 45.6,599.2 55.0,600.0 C64.4,600.8 67.5,600.9 75.0,601.0 C82.5,601.1 87.5,600.7 100.0,600.5 C112.5,600.3 135.8,599.7 150.0,599.8 C164.2,599.9 172.5,601.2 185.0,601.0 C197.5,600.8 214.2,598.9 225.0,598.5 C235.8,598.1 239.2,598.2 250.0,598.5 C260.8,598.8 277.1,599.8 290.0,600.0 C302.9,600.2 315.0,600.2 327.5,599.5 C340.0,598.8 350.4,596.4 365.0,596.0 C379.6,595.6 402.5,597.1 415.0,597.3 C427.5,597.5 432.8,597.1 440.0,597.0 C447.2,596.9 453.0,597.0 458.0,596.5 C463.0,596.0 462.2,595.5 470.0,594.0 C477.8,592.5 495.0,588.7 505.0,587.5 C515.0,586.3 520.8,586.6 530.0,586.8 C539.2,587.0 551.7,587.7 560.0,588.5 C568.3,589.3 573.3,590.8 580.0,591.8 C586.7,592.8 593.3,593.8 600.0,594.5 C606.7,595.2 612.7,595.8 620.0,595.8 C627.3,595.8 637.3,595.4 644.0,594.5 C650.7,593.6 654.8,592.5 660.3,590.5 C665.8,588.5 670.9,585.8 676.7,582.3 C682.5,578.8 689.5,574.2 695.3,569.5 C701.1,564.8 707.0,558.8 711.7,554.3 C716.4,549.8 720.2,545.5 723.3,542.7 C726.4,539.9 726.4,539.0 730.3,537.5 C734.2,536.0 742.8,534.3 746.7,533.8 C750.6,533.3 750.6,533.4 753.7,534.5 C756.8,535.6 762.4,539.1 765.3,540.3 C768.2,541.5 768.9,541.5 771.2,541.5 C773.5,541.5 775.8,541.1 779.3,540.3 C782.8,539.5 790.1,537.1 792.2,536.5" fill="none" stroke="#ff7f1e" stroke-width="1.5" stroke-linecap="round"/>
<path d="M2.5,594.3 C5.2,594.8 10.1,595.8 18.8,597.0 C27.6,598.2 45.6,600.5 55.0,601.3 C64.4,602.1 67.5,602.2 75.0,602.0 C82.5,601.8 92.5,600.5 100.0,600.0 C107.5,599.5 111.7,598.9 120.0,598.8 C128.3,598.7 139.2,599.0 150.0,599.5 C160.8,600.0 172.5,602.3 185.0,602.0 C197.5,601.7 214.2,598.2 225.0,597.5 C235.8,596.8 241.7,597.5 250.0,598.0 C258.3,598.5 268.3,600.2 275.0,600.5 C281.7,600.8 281.2,600.3 290.0,600.0 C298.8,599.7 318.3,599.6 327.5,598.8 C336.7,598.0 338.8,595.5 345.0,595.0 C351.2,594.5 357.5,595.3 365.0,595.5 C372.5,595.7 381.7,596.0 390.0,596.3 C398.3,596.6 406.7,597.4 415.0,597.5 C423.3,597.6 432.8,597.2 440.0,597.0 C447.2,596.8 453.0,597.3 458.0,596.0 C463.0,594.7 466.3,590.7 470.0,589.0 C473.7,587.3 474.2,586.4 480.0,585.8 C485.8,585.2 499.2,585.5 505.0,585.3 C510.8,585.1 510.8,584.3 515.0,584.5 C519.2,584.7 523.3,585.9 530.0,586.5 C536.7,587.1 547.0,587.0 555.0,588.3 C563.0,589.6 570.5,593.1 578.0,594.5 C585.5,595.9 593.0,596.2 600.0,596.5 C607.0,596.8 615.8,596.3 620.0,596.3 C624.2,596.3 621.5,596.8 625.3,596.3 C629.1,595.8 637.3,595.2 642.8,593.5 C648.2,591.8 652.0,589.5 658.0,585.8 C664.0,582.1 673.8,575.5 679.0,571.1 C684.2,566.7 686.9,561.7 689.5,559.5 C692.1,557.3 693.1,559.1 694.9,557.8 C696.6,556.5 698.4,553.0 700.0,551.5 C701.6,550.0 702.2,551.3 704.7,548.5 C707.2,545.7 711.7,539.4 715.2,534.5 C718.7,529.6 723.2,521.6 725.7,519.3 C728.2,517.0 728.5,519.1 730.3,520.5 C732.0,521.9 734.5,526.1 736.2,527.5 C738.0,528.9 739.2,528.5 740.8,528.7 C742.3,528.9 742.2,525.6 745.5,528.7 C748.8,531.8 757.2,543.5 760.7,547.3 C764.2,551.1 763.8,553.0 766.5,551.5 C769.2,550.0 773.5,542.0 777.0,538.5 C780.5,535.0 785.0,531.7 787.5,530.5 C790.0,529.3 791.4,531.2 792.2,531.3" fill="none" stroke="#3a6df0" stroke-width="1.5" stroke-linecap="round"/>
<rect x="554.5" y="94.5" width="194" height="30" rx="3" fill="#fff" stroke="#111" stroke-width="2"/>
<text x="561.6" y="117" font-size="24" fill="#111" font-weight="normal" text-anchor="start" textLength="180" lengthAdjust="spacingAndGlyphs">Base case target</text>
<line x1="749" y1="94.4" x2="840.0" y2="80.8" stroke="#111" stroke-width="2.4"/>
<polygon points="859.5,77.6 838.5,71 841.5,90.5" fill="#111" stroke="#111" stroke-width="1" stroke-linejoin="round"/>
<line x1="865.5" y1="252" x2="827.1" y2="200.5" stroke="#111" stroke-width="2.4"/>
<polygon points="814.5,185.5 819.6,206.5 834.6,194.5" fill="#111" stroke="#111" stroke-width="1" stroke-linejoin="round"/>
<line x1="973.5" y1="252" x2="1063.2" y2="188.2" stroke="#111" stroke-width="2.4"/>
<polygon points="1078.5,177.4 1058.4,180.4 1068,196" fill="#111" stroke="#111" stroke-width="1" stroke-linejoin="round"/>
<rect x="767.5" y="253.4" width="326" height="57" rx="3" fill="#fff" stroke="#111" stroke-width="2"/>
<text x="774.4" y="275" font-size="24" fill="#111" font-weight="normal" text-anchor="start" textLength="311" lengthAdjust="spacingAndGlyphs">Surges in pre-market trading,</text>
<text x="774.4" y="302.8" font-size="24" fill="#111" font-weight="normal" text-anchor="start" textLength="260" lengthAdjust="spacingAndGlyphs">following blow-out report</text>
<circle cx="21.3" cy="19.3" r="9.6" fill="#131722"/>
<text x="15.6" y="24" font-size="10.5" fill="#f2f2f2" font-weight="bold" text-anchor="start" textLength="6.5" lengthAdjust="spacingAndGlyphs">B</text>
<circle cx="25.1" cy="21" r="2.9" fill="#4caf50"/>
<rect x="23.9" y="19.6" width="2.4" height="2.8" fill="none" stroke="#131722" stroke-width="0.7"/>
<text x="35.3" y="25.3" font-size="15.5" fill="#434651" font-weight="normal" text-anchor="start" textLength="17.4" lengthAdjust="spacingAndGlyphs">BE</text>
<rect x="62" y="10" width="41.7" height="18.3" rx="9.1" fill="#fdeedb"/>
<path d="M83 10 H94.5 A9.1 9.1 0 0 1 94.5 28.3 H83 Z" fill="#f9dbe6"/>
<path d="M68.6 22 A3.7 3.9 0 0 1 76 22 Z" fill="#f7931e"/>
<line x1="69.3" y1="14.3" x2="69.9" y2="15.6" stroke="#f7931e" stroke-width="1.5" stroke-linecap="round"/>
<line x1="75.9" y1="14.3" x2="75.3" y2="15.6" stroke="#f7931e" stroke-width="1.5" stroke-linecap="round"/>
<line x1="65.8" y1="18.6" x2="67.2" y2="19.1" stroke="#f7931e" stroke-width="1.5" stroke-linecap="round"/>
<line x1="79.4" y1="18.6" x2="78" y2="19.1" stroke="#f7931e" stroke-width="1.5" stroke-linecap="round"/>
<path d="M88.2 17.6 q2 -1.9 4.2 0 t4.2 0 M88.2 21.6 q2 -1.9 4.2 0 t4.2 0" fill="none" stroke="#e0245e" stroke-width="1.7" stroke-linecap="round"/>
<text x="112.5" y="24.3" font-size="12.5" fill="#5d606b" font-weight="normal" text-anchor="start" textLength="6.7" lengthAdjust="spacingAndGlyphs" stroke="#5d606b" stroke-width="0.22">O</text>
<text x="119.8" y="24.3" font-size="12.5" fill="#6e3431" font-weight="normal" text-anchor="start" textLength="43.2" lengthAdjust="spacingAndGlyphs" stroke="#6e3431" stroke-width="0.22">151.00</text>
<text x="169.7" y="24.3" font-size="12.5" fill="#5d606b" font-weight="normal" text-anchor="start" stroke="#5d606b" stroke-width="0.22">H</text>
<text x="178.2" y="24.3" font-size="12.5" fill="#6e3431" font-weight="normal" text-anchor="start" textLength="41.5" lengthAdjust="spacingAndGlyphs" stroke="#6e3431" stroke-width="0.22">176.49</text>
<text x="227" y="24.3" font-size="12.5" fill="#5d606b" font-weight="normal" text-anchor="start" stroke="#5d606b" stroke-width="0.22">L</text>
<text x="234.2" y="24.3" font-size="12.5" fill="#6e3431" font-weight="normal" text-anchor="start" textLength="40.5" lengthAdjust="spacingAndGlyphs" stroke="#6e3431" stroke-width="0.22">131.66</text>
<text x="281.5" y="24.3" font-size="12.5" fill="#5d606b" font-weight="normal" text-anchor="start" textLength="7.5" lengthAdjust="spacingAndGlyphs" stroke="#5d606b" stroke-width="0.22">C</text>
<text x="290.2" y="24.3" font-size="12.5" fill="#6e3431" font-weight="normal" text-anchor="start" textLength="41.3" lengthAdjust="spacingAndGlyphs" stroke="#6e3431" stroke-width="0.22">136.60</text>
<text x="338.3" y="24.3" font-size="12.5" fill="#6e3431" font-weight="normal" text-anchor="start" textLength="39.7" lengthAdjust="spacingAndGlyphs" stroke="#6e3431" stroke-width="0.22">−14.77</text>
<text x="383.5" y="24.3" font-size="12.5" fill="#6e3431" font-weight="normal" text-anchor="start" textLength="50.0" lengthAdjust="spacingAndGlyphs" stroke="#6e3431" stroke-width="0.22">(−9.76%)</text>
<text x="441" y="24.3" font-size="12.5" fill="#5d606b" font-weight="normal" text-anchor="start" textLength="18.6" lengthAdjust="spacingAndGlyphs" stroke="#5d606b" stroke-width="0.22">Vol</text>
<text x="460.5" y="24.3" font-size="12.5" fill="#6e3431" font-weight="normal" text-anchor="start" textLength="44.9" lengthAdjust="spacingAndGlyphs" stroke="#6e3431" stroke-width="0.22">54.44M</text>
<rect x="11.5" y="36.5" width="62.5" height="34.8" rx="5" fill="#fff" stroke="#f23645" stroke-width="1.3"/>
<text x="23.3" y="51" font-size="12" fill="#f23645" font-weight="bold" text-anchor="start" textLength="40" lengthAdjust="spacingAndGlyphs">153.55</text>
<text x="30.7" y="65.4" font-size="11.5" fill="#f23645" font-weight="normal" text-anchor="start" textLength="24" lengthAdjust="spacingAndGlyphs" stroke="#f23645" stroke-width="0.22">SELL</text>
<text x="83.3" y="56.7" font-size="10.5" fill="#131722" font-weight="normal" text-anchor="start" textLength="20.4" lengthAdjust="spacingAndGlyphs" stroke="#131722" stroke-width="0.22">0.79</text>
<rect x="112.8" y="36.5" width="63" height="34.8" rx="5" fill="#fff" stroke="#2962ff" stroke-width="1.3"/>
<text x="125" y="50.8" font-size="12" fill="#2962ff" font-weight="bold" text-anchor="start" textLength="40" lengthAdjust="spacingAndGlyphs">154.34</text>
<text x="133.8" y="65.4" font-size="11.5" fill="#2962ff" font-weight="normal" text-anchor="start" textLength="20.8" lengthAdjust="spacingAndGlyphs" stroke="#2962ff" stroke-width="0.22">BUY</text>
<text x="12" y="92.8" font-size="12.5" fill="#5d606b" font-weight="normal" text-anchor="start" textLength="24.7" lengthAdjust="spacingAndGlyphs" stroke="#5d606b" stroke-width="0.22">EMA</text>
<circle cx="54.5" cy="88.5" r="8.9" fill="#ece4fd"/>
<path d="M49.5,86.9 A5.2 5.2 0 0 1 58.9,86.3 M59.5,90.1 A5.2 5.2 0 0 1 50.1,90.7" fill="none" stroke="#6f22f2" stroke-width="1.7" stroke-linecap="round"/>
<polygon points="57.1,86.5 61.9,85.7 59.9,89.4" fill="#6f22f2"/>
<polygon points="51.9,90.5 47.1,91.3 49.1,87.6" fill="#6f22f2"/>
<text x="73" y="92.8" font-size="12.5" fill="#2962ff" font-weight="normal" text-anchor="start" textLength="40" lengthAdjust="spacingAndGlyphs" stroke="#2962ff" stroke-width="0.22">134.84</text>
<text x="12" y="118" font-size="12.5" fill="#5d606b" font-weight="normal" text-anchor="start" textLength="24.7" lengthAdjust="spacingAndGlyphs" stroke="#5d606b" stroke-width="0.22">EMA</text>
<circle cx="54.5" cy="113.7" r="8.9" fill="#ece4fd"/>
<path d="M49.5,112.1 A5.2 5.2 0 0 1 58.9,111.5 M59.5,115.3 A5.2 5.2 0 0 1 50.1,115.9" fill="none" stroke="#6f22f2" stroke-width="1.7" stroke-linecap="round"/>
<polygon points="57.1,111.7 61.9,110.9 59.9,114.6" fill="#6f22f2"/>
<polygon points="51.9,115.7 47.1,116.5 49.1,112.8" fill="#6f22f2"/>
<text x="73" y="118" font-size="12.5" fill="#089981" font-weight="normal" text-anchor="start" textLength="32.4" lengthAdjust="spacingAndGlyphs" stroke="#089981" stroke-width="0.22">43.23</text>
<text x="12" y="168" font-size="12.5" fill="#5d606b" font-weight="normal" text-anchor="start" textLength="24.7" lengthAdjust="spacingAndGlyphs" stroke="#5d606b" stroke-width="0.22">EMA</text>
<circle cx="54.5" cy="163.7" r="8.9" fill="#ece4fd"/>
<path d="M49.5,162.1 A5.2 5.2 0 0 1 58.9,161.5 M59.5,165.3 A5.2 5.2 0 0 1 50.1,165.9" fill="none" stroke="#6f22f2" stroke-width="1.7" stroke-linecap="round"/>
<polygon points="57.1,161.7 61.9,160.9 59.9,164.6" fill="#6f22f2"/>
<polygon points="51.9,165.7 47.1,166.5 49.1,162.8" fill="#6f22f2"/>
<text x="73" y="168" font-size="12.5" fill="#089981" font-weight="normal" text-anchor="start" textLength="32.4" lengthAdjust="spacingAndGlyphs" stroke="#089981" stroke-width="0.22">96.59</text>
<text x="12" y="143" font-size="12.5" fill="#5d606b" font-weight="normal" text-anchor="start" textLength="18" lengthAdjust="spacingAndGlyphs" stroke="#5d606b" stroke-width="0.22">Vol</text>
<text x="38.7" y="143" font-size="12.5" fill="#f7525f" font-weight="normal" text-anchor="start" textLength="45.3" lengthAdjust="spacingAndGlyphs" stroke="#f7525f" stroke-width="0.22">54.44M</text>
<rect x="11.8" y="179.6" width="28.6" height="20.6" rx="3.5" fill="#ffffff" fill-opacity="0.85" stroke="#e6e6e6" stroke-width="1"/>
<path d="M21.3 192.4 L25.7 188.2 L30 192.4" fill="none" stroke="#222" stroke-width="1.6"/>
<rect x="8" y="413" width="150" height="20" fill="#ffffff" fill-opacity="0.6"/>
<text x="11.7" y="427" font-size="12.5" fill="#5d606b" font-weight="normal" text-anchor="start" textLength="32.6" lengthAdjust="spacingAndGlyphs" stroke="#5d606b" stroke-width="0.22">Stoch</text>
<circle cx="62.5" cy="422.6" r="8.9" fill="#ece4fd"/>
<path d="M57.5,421.0 A5.2 5.2 0 0 1 66.9,420.4 M67.5,424.2 A5.2 5.2 0 0 1 58.1,424.8" fill="none" stroke="#6f22f2" stroke-width="1.7" stroke-linecap="round"/>
<polygon points="65.1,420.6 69.9,419.8 67.9,423.5" fill="#6f22f2"/>
<polygon points="59.9,424.6 55.1,425.4 57.1,421.7" fill="#6f22f2"/>
<text x="81" y="427" font-size="12.5" fill="#2962ff" font-weight="normal" text-anchor="start" textLength="33" lengthAdjust="spacingAndGlyphs" stroke="#2962ff" stroke-width="0.22">60.42</text>
<text x="121" y="427" font-size="12.5" fill="#ff6d00" font-weight="normal" text-anchor="start" textLength="33" lengthAdjust="spacingAndGlyphs" stroke="#ff6d00" stroke-width="0.22">76.36</text>
<text x="11.7" y="536" font-size="12.5" fill="#5d606b" font-weight="normal" text-anchor="start" textLength="33.8" lengthAdjust="spacingAndGlyphs" stroke="#5d606b" stroke-width="0.22">MACD</text>
<circle cx="63.5" cy="531.7" r="8.9" fill="#ece4fd"/>
<path d="M58.5,530.1 A5.2 5.2 0 0 1 67.9,529.5 M68.5,533.3 A5.2 5.2 0 0 1 59.1,533.9" fill="none" stroke="#6f22f2" stroke-width="1.7" stroke-linecap="round"/>
<polygon points="66.1,529.7 70.9,528.9 68.9,532.6" fill="#6f22f2"/>
<polygon points="60.9,533.7 56.1,534.5 58.1,530.8" fill="#6f22f2"/>
<text x="82" y="536" font-size="12.5" fill="#a8d8d2" font-weight="normal" text-anchor="start" textLength="25.3" lengthAdjust="spacingAndGlyphs" stroke="#a8d8d2" stroke-width="0.22">1.72</text>
<text x="114.3" y="536" font-size="12.5" fill="#2962ff" font-weight="normal" text-anchor="start" textLength="33.2" lengthAdjust="spacingAndGlyphs" stroke="#2962ff" stroke-width="0.22">21.62</text>
<text x="155" y="536" font-size="12.5" fill="#ff6d00" font-weight="normal" text-anchor="start" textLength="32.8" lengthAdjust="spacingAndGlyphs" stroke="#ff6d00" stroke-width="0.22">19.90</text>
<rect x="19" y="580" width="70" height="20.5" fill="#ffffff"/>
<path d="M15 583 H27.6 V598.6 H21 V589.2 H15 Z" fill="#131722"/>
<circle cx="33.3" cy="586" r="3.2" fill="#131722"/>
<path d="M37.2 583 H46 L39.6 598.6 H33 Z" fill="#131722"/>
<path d="M50.5 583 H87.2 L81.5 598.6 H45 Z" fill="#131722"/>
<text x="55.8" y="595.6" font-size="10.4" fill="#ffffff" font-weight="bold" text-anchor="start" textLength="21.2" lengthAdjust="spacingAndGlyphs">PRO</text>
<rect x="0" y="0" width="1200" height="3" fill="#ebebeb"/>
<rect x="0" y="0" width="2.8" height="646" fill="#ebebeb"/>
<rect x="1198.5" y="0" width="1.5" height="646" fill="#ebebeb"/>
<line x1="3" y1="641.3" x2="1198" y2="641.3" stroke="#ebebeb" stroke-width="1"/>
<line x1="3" y1="613.5" x2="1198" y2="613.5" stroke="#727272" stroke-width="1.3"/>
<text x="1143.5" y="101.60000000000001" font-size="12.5" fill="#4f525b" font-weight="normal" text-anchor="start" textLength="34" lengthAdjust="spacingAndGlyphs" stroke="#4f525b" stroke-width="0.22">200.00</text>
<text x="1143.5" y="134.0" font-size="12.5" fill="#4f525b" font-weight="normal" text-anchor="start" textLength="34" lengthAdjust="spacingAndGlyphs" stroke="#4f525b" stroke-width="0.22">180.00</text>
<text x="1143.5" y="196.70000000000002" font-size="12.5" fill="#4f525b" font-weight="normal" text-anchor="start" textLength="34" lengthAdjust="spacingAndGlyphs" stroke="#4f525b" stroke-width="0.22">140.00</text>
<text x="1143.5" y="228.1" font-size="12.5" fill="#4f525b" font-weight="normal" text-anchor="start" textLength="34" lengthAdjust="spacingAndGlyphs" stroke="#4f525b" stroke-width="0.22">120.00</text>
<text x="1143.5" y="259.4" font-size="12.5" fill="#4f525b" font-weight="normal" text-anchor="start" textLength="34" lengthAdjust="spacingAndGlyphs" stroke="#4f525b" stroke-width="0.22">100.00</text>
<text x="1143.5" y="290.79999999999995" font-size="12.5" fill="#4f525b" font-weight="normal" text-anchor="start" textLength="28" lengthAdjust="spacingAndGlyphs" stroke="#4f525b" stroke-width="0.22">80.00</text>
<text x="1143.5" y="322.4" font-size="12.5" fill="#4f525b" font-weight="normal" text-anchor="start" textLength="28" lengthAdjust="spacingAndGlyphs" stroke="#4f525b" stroke-width="0.22">60.00</text>
<text x="1143.5" y="353.5" font-size="12.5" fill="#4f525b" font-weight="normal" text-anchor="start" textLength="28" lengthAdjust="spacingAndGlyphs" stroke="#4f525b" stroke-width="0.22">40.00</text>
<text x="1143.5" y="384.0" font-size="12.5" fill="#4f525b" font-weight="normal" text-anchor="start" textLength="28" lengthAdjust="spacingAndGlyphs" stroke="#4f525b" stroke-width="0.22">20.00</text>
<text x="1143.5" y="39.9" font-size="12.5" fill="#4f525b" font-weight="normal" text-anchor="start" textLength="34" lengthAdjust="spacingAndGlyphs" stroke="#4f525b" stroke-width="0.22">240.00</text>
<text x="1143.5" y="472.9" font-size="12.5" fill="#4f525b" font-weight="normal" text-anchor="start" textLength="27.8" lengthAdjust="spacingAndGlyphs" stroke="#4f525b" stroke-width="0.22">40.00</text>
<text x="1143.5" y="510.9" font-size="12.5" fill="#4f525b" font-weight="normal" text-anchor="start" textLength="22" lengthAdjust="spacingAndGlyphs" stroke="#4f525b" stroke-width="0.22">0.00</text>
<text x="1143.5" y="570.8" font-size="12.5" fill="#4f525b" font-weight="normal" text-anchor="start" textLength="27.8" lengthAdjust="spacingAndGlyphs" stroke="#4f525b" stroke-width="0.22">10.00</text>
<text x="1143.5" y="600.8" font-size="12.5" fill="#4f525b" font-weight="normal" text-anchor="start" textLength="34" lengthAdjust="spacingAndGlyphs" stroke="#4f525b" stroke-width="0.22">0.0000</text>
<path d="M1134 60 H1178.5 Q1181 60 1181 62.5 V73.2 Q1181 75.7 1178.5 75.7 H1134 Z" fill="#4caf50"/>
<text x="1144" y="72.75" font-size="12.5" fill="#fff" font-weight="normal" text-anchor="start" textLength="34.5" lengthAdjust="spacingAndGlyphs" stroke="#fff" stroke-width="0.25">219.20</text>
<path d="M1134 156 H1112.0 Q1109.5 156 1109.5 158.5 V169.0 Q1109.5 171.5 1112.0 171.5 H1134 Z" fill="#fb8c00"/>
<text x="1113.25" y="168.65" font-size="12.5" fill="#fff" font-weight="normal" text-anchor="start" textLength="17" lengthAdjust="spacingAndGlyphs" stroke="#fff" stroke-width="0.25">Pre</text>
<path d="M1134 156 H1178.8 Q1181.3 156 1181.3 158.5 V169.0 Q1181.3 171.5 1178.8 171.5 H1134 Z" fill="#fb8c00"/>
<text x="1144" y="168.65" font-size="12.5" fill="#fff" font-weight="normal" text-anchor="start" textLength="34.5" lengthAdjust="spacingAndGlyphs" stroke="#fff" stroke-width="0.25">153.67</text>
<path d="M1134 172.2 H1178.8 Q1181.3 172.2 1181.3 174.7 V184.9 Q1181.3 187.4 1178.8 187.4 H1134 Z" fill="#4caf50"/>
<text x="1144" y="184.70000000000002" font-size="12.5" fill="#fff" font-weight="normal" text-anchor="start" textLength="34.5" lengthAdjust="spacingAndGlyphs" stroke="#fff" stroke-width="0.25">147.86</text>
<path d="M1134 189.5 H1115.5 Q1113 189.5 1113 192.0 V202.2 Q1113 204.7 1115.5 204.7 H1134 Z" fill="#e0533f"/>
<text x="1116.5" y="202.0" font-size="12.5" fill="#fff" font-weight="normal" text-anchor="start" textLength="14" lengthAdjust="spacingAndGlyphs" stroke="#fff" stroke-width="0.25">BE</text>
<path d="M1134 189.5 H1189.5 Q1192 189.5 1192 192.0 V202.2 Q1192 204.7 1189.5 204.7 H1134 Z" fill="#e0533f"/>
<text x="1144" y="202.0" font-size="12.5" fill="#fff" font-weight="normal" text-anchor="start" textLength="43" lengthAdjust="spacingAndGlyphs" stroke="#fff" stroke-width="0.25">07:12:53</text>
<path d="M1134 206 H1178.8 Q1181.3 206 1181.3 208.5 V219.0 Q1181.3 221.5 1178.8 221.5 H1134 Z" fill="#2962ff"/>
<text x="1144" y="218.65" font-size="12.5" fill="#fff" font-weight="normal" text-anchor="start" textLength="34.5" lengthAdjust="spacingAndGlyphs" stroke="#fff" stroke-width="0.25">134.84</text>
<path d="M1134 252.9 H1174.0 Q1176.5 252.9 1176.5 255.4 V265.2 Q1176.5 267.7 1174.0 267.7 H1134 Z" fill="#089981"/>
<text x="1143.5" y="265.2" font-size="12.5" fill="#fff" font-weight="normal" text-anchor="start" textLength="28.5" lengthAdjust="spacingAndGlyphs" stroke="#fff" stroke-width="0.25">96.59</text>
<path d="M1134 285.3 H1174.0 Q1176.5 285.3 1176.5 287.8 V297.7 Q1176.5 300.2 1174.0 300.2 H1134 Z" fill="#4caf50"/>
<text x="1143.5" y="297.65" font-size="12.5" fill="#fff" font-weight="normal" text-anchor="start" textLength="28.5" lengthAdjust="spacingAndGlyphs" stroke="#fff" stroke-width="0.25">76.00</text>
<path d="M1134 336.6 H1174.0 Q1176.5 336.6 1176.5 339.1 V349.0 Q1176.5 351.5 1174.0 351.5 H1134 Z" fill="#089981"/>
<text x="1143.5" y="348.95" font-size="12.5" fill="#fff" font-weight="normal" text-anchor="start" textLength="28.5" lengthAdjust="spacingAndGlyphs" stroke="#fff" stroke-width="0.25">43.23</text>
<path d="M1134 352.2 H1183.1 Q1185.6 352.2 1185.6 354.7 V365.0 Q1185.6 367.5 1183.1 367.5 H1134 Z" fill="#f25c5c"/>
<text x="1143.5" y="364.75" font-size="12.5" fill="#fff" font-weight="normal" text-anchor="start" textLength="38" lengthAdjust="spacingAndGlyphs" stroke="#fff" stroke-width="0.25">54.44M</text>
<path d="M1134 425.2 H1173.5 Q1176 425.2 1176 427.7 V437.6 Q1176 440.1 1173.5 440.1 H1134 Z" fill="#ff6d00"/>
<text x="1143.5" y="437.54999999999995" font-size="12.5" fill="#fff" font-weight="normal" text-anchor="start" textLength="28.5" lengthAdjust="spacingAndGlyphs" stroke="#fff" stroke-width="0.25">76.36</text>
<path d="M1134 441.9 H1173.5 Q1176 441.9 1176 444.4 V454.3 Q1176 456.8 1173.5 456.8 H1134 Z" fill="#2962ff"/>
<text x="1143.5" y="454.25" font-size="12.5" fill="#fff" font-weight="normal" text-anchor="start" textLength="28.5" lengthAdjust="spacingAndGlyphs" stroke="#fff" stroke-width="0.25">60.42</text>
<path d="M1134 514.9 H1173.5 Q1176 514.9 1176 517.4 V526.4 Q1176 528.9 1173.5 528.9 H1134 Z" fill="#2962ff"/>
<text x="1143.5" y="526.8" font-size="12.5" fill="#fff" font-weight="normal" text-anchor="start" textLength="28.5" lengthAdjust="spacingAndGlyphs" stroke="#fff" stroke-width="0.25">21.62</text>
<path d="M1134 531.2 H1173.5 Q1176 531.2 1176 533.7 V542.3 Q1176 544.8 1173.5 544.8 H1134 Z" fill="#ff6d00"/>
<text x="1143.5" y="542.9" font-size="12.5" fill="#fff" font-weight="normal" text-anchor="start" textLength="28.5" lengthAdjust="spacingAndGlyphs" stroke="#fff" stroke-width="0.25">19.90</text>
<path d="M1134 584 H1168.5 Q1171 584 1171 586.5 V597.0 Q1171 599.5 1168.5 599.5 H1134 Z" fill="#b2dfdb"/>
<text x="1143.5" y="596.65" font-size="12.5" fill="#2a2e39" font-weight="normal" text-anchor="start" textLength="22" lengthAdjust="spacingAndGlyphs" stroke="#2a2e39" stroke-width="0.25">1.72</text>
<line x1="1134.2" y1="3" x2="1134.2" y2="641" stroke="#8c8c8c" stroke-width="1.4"/>
<rect x="1135" y="3" width="63" height="33.6" fill="#fff"/>
<rect x="1138.5" y="7.5" width="54.5" height="26" rx="5" fill="#fff" stroke="#ececec" stroke-width="1"/>
<text x="1142" y="25" font-size="12.5" fill="#131722" font-weight="normal" text-anchor="start" textLength="21.3" lengthAdjust="spacingAndGlyphs" stroke="#131722" stroke-width="0.22">USD</text>
<path d="M1184.2 19.2 L1187 22 L1189.8 19.2" fill="none" stroke="#131722" stroke-width="1.5"/>
<text x="90.4" y="632" font-size="12.5" fill="#4f525b" font-weight="normal" text-anchor="start" textLength="14.7" lengthAdjust="spacingAndGlyphs" stroke="#4f525b" stroke-width="0.22">Jul</text>
<text x="218.8" y="632" font-size="12.5" fill="#3a3d45" font-weight="bold" text-anchor="start" textLength="26.3" lengthAdjust="spacingAndGlyphs">2024</text>
<text x="357.6" y="632" font-size="12.5" fill="#4f525b" font-weight="normal" text-anchor="start" textLength="14.7" lengthAdjust="spacingAndGlyphs" stroke="#4f525b" stroke-width="0.22">Jul</text>
<text x="490.9" y="632" font-size="12.5" fill="#3a3d45" font-weight="bold" text-anchor="start" textLength="26.3" lengthAdjust="spacingAndGlyphs">2025</text>
<text x="630.6" y="632" font-size="12.5" fill="#4f525b" font-weight="normal" text-anchor="start" textLength="14.7" lengthAdjust="spacingAndGlyphs" stroke="#4f525b" stroke-width="0.22">Jul</text>
<text x="757.9" y="632" font-size="12.5" fill="#3a3d45" font-weight="bold" text-anchor="start" textLength="26.3" lengthAdjust="spacingAndGlyphs">2026</text>
<text x="897.6" y="632" font-size="12.5" fill="#4f525b" font-weight="normal" text-anchor="start" textLength="14.7" lengthAdjust="spacingAndGlyphs" stroke="#4f525b" stroke-width="0.22">Jul</text>
<text x="1025.8" y="632" font-size="12.5" fill="#3a3d45" font-weight="bold" text-anchor="start" textLength="26.3" lengthAdjust="spacingAndGlyphs">2027</text>
<polygon points="1159.5,628.5 1163,622.5 1170.4,622.5 1173.9,628.5 1170.4,634.5 1163,634.5" fill="none" stroke="#222" stroke-width="1.5" stroke-linejoin="round"/>
<circle cx="1166.7" cy="628.5" r="2.2" fill="none" stroke="#222" stroke-width="1.3"/>
</svg></body></html>
